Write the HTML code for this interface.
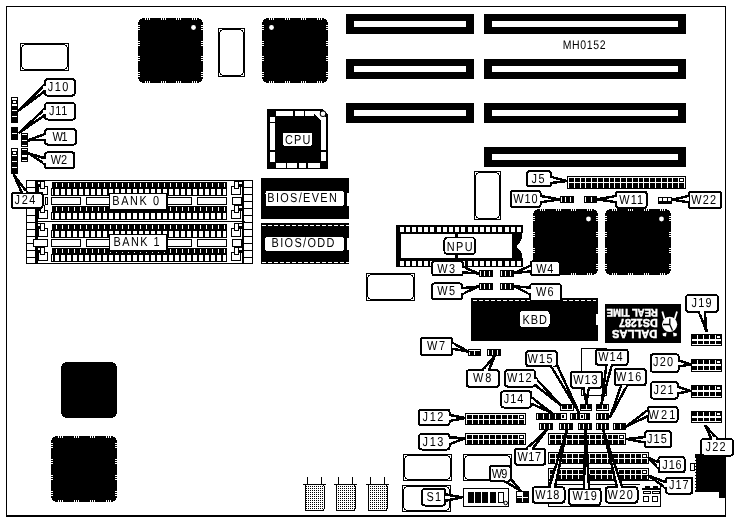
<!DOCTYPE html>
<html><head><meta charset="utf-8"><title>MH0152</title>
<style>
html,body{margin:0;padding:0;background:#fff;}
body{width:740px;height:521px;overflow:hidden;}
svg{display:block;font-family:"Liberation Sans",sans-serif;will-change:transform;}
</style></head><body>
<svg width="740" height="521" viewBox="0 0 740 521" shape-rendering="crispEdges" text-rendering="geometricPrecision">
<defs><pattern id="dots" width="2" height="2" patternUnits="userSpaceOnUse"><rect width="2" height="2" fill="#fff"/><rect width="1" height="1" fill="#000"/></pattern></defs>
<rect width="740" height="521" fill="#fff"/>
<rect x="6" y="6" width="720" height="1" fill="#000" />
<rect x="6" y="6" width="1" height="510" fill="#000" />
<rect x="725" y="6" width="1" height="510" fill="#000" />
<rect x="6" y="515" width="720" height="2" fill="#000" />
<rect x="346" y="14" width="128" height="20" fill="#000" />
<rect x="354" y="21" width="112" height="6" fill="#fff" />
<rect x="346" y="59" width="128" height="20" fill="#000" />
<rect x="354" y="66" width="112" height="6" fill="#fff" />
<rect x="346" y="103" width="128" height="20" fill="#000" />
<rect x="354" y="110" width="112" height="6" fill="#fff" />
<rect x="484" y="14" width="202" height="20" fill="#000" />
<rect x="492" y="21" width="186" height="6" fill="#fff" />
<rect x="484" y="59" width="202" height="20" fill="#000" />
<rect x="492" y="66" width="186" height="6" fill="#fff" />
<rect x="484" y="103" width="202" height="20" fill="#000" />
<rect x="492" y="110" width="186" height="6" fill="#fff" />
<rect x="484" y="147" width="202" height="20" fill="#000" />
<rect x="492" y="154" width="186" height="6" fill="#fff" />
<polygon points="142,18 199,18 199,19 201,19 201,20 202,20 202,22 203,22 203,79 202,79 202,81 201,81 201,82 199,82 199,83 142,83 142,82 140,82 140,81 139,81 139,79 138,79 138,22 139,22 139,20 140,20 140,19 142,19" fill="#000"/>
<rect x="145" y="18" width="1" height="2" fill="#fff" />
<rect x="145" y="81" width="1" height="2" fill="#fff" />
<rect x="138" y="25" width="2" height="1" fill="#fff" />
<rect x="201" y="25" width="2" height="1" fill="#fff" />
<rect x="147" y="18" width="1" height="2" fill="#fff" />
<rect x="147" y="81" width="1" height="2" fill="#fff" />
<rect x="138" y="27" width="2" height="1" fill="#fff" />
<rect x="201" y="27" width="2" height="1" fill="#fff" />
<rect x="149" y="18" width="1" height="2" fill="#fff" />
<rect x="149" y="81" width="1" height="2" fill="#fff" />
<rect x="138" y="29" width="2" height="1" fill="#fff" />
<rect x="201" y="29" width="2" height="1" fill="#fff" />
<rect x="161" y="18" width="1" height="2" fill="#fff" />
<rect x="161" y="81" width="1" height="2" fill="#fff" />
<rect x="138" y="41" width="2" height="1" fill="#fff" />
<rect x="201" y="41" width="2" height="1" fill="#fff" />
<rect x="163" y="18" width="1" height="2" fill="#fff" />
<rect x="163" y="81" width="1" height="2" fill="#fff" />
<rect x="138" y="43" width="2" height="1" fill="#fff" />
<rect x="201" y="43" width="2" height="1" fill="#fff" />
<rect x="165" y="18" width="1" height="2" fill="#fff" />
<rect x="165" y="81" width="1" height="2" fill="#fff" />
<rect x="138" y="45" width="2" height="1" fill="#fff" />
<rect x="201" y="45" width="2" height="1" fill="#fff" />
<rect x="176" y="18" width="1" height="2" fill="#fff" />
<rect x="176" y="81" width="1" height="2" fill="#fff" />
<rect x="138" y="56" width="2" height="1" fill="#fff" />
<rect x="201" y="56" width="2" height="1" fill="#fff" />
<rect x="178" y="18" width="1" height="2" fill="#fff" />
<rect x="178" y="81" width="1" height="2" fill="#fff" />
<rect x="138" y="58" width="2" height="1" fill="#fff" />
<rect x="201" y="58" width="2" height="1" fill="#fff" />
<rect x="180" y="18" width="1" height="2" fill="#fff" />
<rect x="180" y="81" width="1" height="2" fill="#fff" />
<rect x="138" y="60" width="2" height="1" fill="#fff" />
<rect x="201" y="60" width="2" height="1" fill="#fff" />
<rect x="192" y="18" width="1" height="2" fill="#fff" />
<rect x="192" y="81" width="1" height="2" fill="#fff" />
<rect x="138" y="72" width="2" height="1" fill="#fff" />
<rect x="201" y="72" width="2" height="1" fill="#fff" />
<rect x="194" y="18" width="1" height="2" fill="#fff" />
<rect x="194" y="81" width="1" height="2" fill="#fff" />
<rect x="138" y="74" width="2" height="1" fill="#fff" />
<rect x="201" y="74" width="2" height="1" fill="#fff" />
<rect x="196" y="18" width="1" height="2" fill="#fff" />
<rect x="196" y="81" width="1" height="2" fill="#fff" />
<rect x="138" y="76" width="2" height="1" fill="#fff" />
<rect x="201" y="76" width="2" height="1" fill="#fff" />
<circle cx="193.5" cy="27.5" r="2.4" fill="#fff" shape-rendering="geometricPrecision"/>
<polygon points="266,18 324,18 324,19 326,19 326,20 327,20 327,22 328,22 328,79 327,79 327,81 326,81 326,82 324,82 324,83 266,83 266,82 264,82 264,81 263,81 263,79 262,79 262,22 263,22 263,20 264,20 264,19 266,19" fill="#000"/>
<rect x="269" y="18" width="1" height="2" fill="#fff" />
<rect x="269" y="81" width="1" height="2" fill="#fff" />
<rect x="262" y="25" width="2" height="1" fill="#fff" />
<rect x="326" y="25" width="2" height="1" fill="#fff" />
<rect x="271" y="18" width="1" height="2" fill="#fff" />
<rect x="271" y="81" width="1" height="2" fill="#fff" />
<rect x="262" y="27" width="2" height="1" fill="#fff" />
<rect x="326" y="27" width="2" height="1" fill="#fff" />
<rect x="273" y="18" width="1" height="2" fill="#fff" />
<rect x="273" y="81" width="1" height="2" fill="#fff" />
<rect x="262" y="29" width="2" height="1" fill="#fff" />
<rect x="326" y="29" width="2" height="1" fill="#fff" />
<rect x="285" y="18" width="1" height="2" fill="#fff" />
<rect x="285" y="81" width="1" height="2" fill="#fff" />
<rect x="262" y="41" width="2" height="1" fill="#fff" />
<rect x="326" y="41" width="2" height="1" fill="#fff" />
<rect x="287" y="18" width="1" height="2" fill="#fff" />
<rect x="287" y="81" width="1" height="2" fill="#fff" />
<rect x="262" y="43" width="2" height="1" fill="#fff" />
<rect x="326" y="43" width="2" height="1" fill="#fff" />
<rect x="289" y="18" width="1" height="2" fill="#fff" />
<rect x="289" y="81" width="1" height="2" fill="#fff" />
<rect x="262" y="45" width="2" height="1" fill="#fff" />
<rect x="326" y="45" width="2" height="1" fill="#fff" />
<rect x="301" y="18" width="1" height="2" fill="#fff" />
<rect x="301" y="81" width="1" height="2" fill="#fff" />
<rect x="262" y="56" width="2" height="1" fill="#fff" />
<rect x="326" y="56" width="2" height="1" fill="#fff" />
<rect x="303" y="18" width="1" height="2" fill="#fff" />
<rect x="303" y="81" width="1" height="2" fill="#fff" />
<rect x="262" y="58" width="2" height="1" fill="#fff" />
<rect x="326" y="58" width="2" height="1" fill="#fff" />
<rect x="305" y="18" width="1" height="2" fill="#fff" />
<rect x="305" y="81" width="1" height="2" fill="#fff" />
<rect x="262" y="60" width="2" height="1" fill="#fff" />
<rect x="326" y="60" width="2" height="1" fill="#fff" />
<rect x="317" y="18" width="1" height="2" fill="#fff" />
<rect x="317" y="81" width="1" height="2" fill="#fff" />
<rect x="262" y="72" width="2" height="1" fill="#fff" />
<rect x="326" y="72" width="2" height="1" fill="#fff" />
<rect x="319" y="18" width="1" height="2" fill="#fff" />
<rect x="319" y="81" width="1" height="2" fill="#fff" />
<rect x="262" y="74" width="2" height="1" fill="#fff" />
<rect x="326" y="74" width="2" height="1" fill="#fff" />
<rect x="321" y="18" width="1" height="2" fill="#fff" />
<rect x="321" y="81" width="1" height="2" fill="#fff" />
<rect x="262" y="76" width="2" height="1" fill="#fff" />
<rect x="326" y="76" width="2" height="1" fill="#fff" />
<circle cx="271.5" cy="27.5" r="2.4" fill="#fff" shape-rendering="geometricPrecision"/>
<polygon points="537,209 594,209 594,210 596,210 596,211 597,211 597,213 598,213 598,271 597,271 597,273 596,273 596,274 594,274 594,275 537,275 537,274 535,274 535,273 534,273 534,271 533,271 533,213 534,213 534,211 535,211 535,210 537,210" fill="#000"/>
<rect x="540" y="209" width="1" height="2" fill="#fff" />
<rect x="540" y="273" width="1" height="2" fill="#fff" />
<rect x="533" y="216" width="2" height="1" fill="#fff" />
<rect x="596" y="216" width="2" height="1" fill="#fff" />
<rect x="542" y="209" width="1" height="2" fill="#fff" />
<rect x="542" y="273" width="1" height="2" fill="#fff" />
<rect x="533" y="218" width="2" height="1" fill="#fff" />
<rect x="596" y="218" width="2" height="1" fill="#fff" />
<rect x="544" y="209" width="1" height="2" fill="#fff" />
<rect x="544" y="273" width="1" height="2" fill="#fff" />
<rect x="533" y="220" width="2" height="1" fill="#fff" />
<rect x="596" y="220" width="2" height="1" fill="#fff" />
<rect x="556" y="209" width="1" height="2" fill="#fff" />
<rect x="556" y="273" width="1" height="2" fill="#fff" />
<rect x="533" y="232" width="2" height="1" fill="#fff" />
<rect x="596" y="232" width="2" height="1" fill="#fff" />
<rect x="558" y="209" width="1" height="2" fill="#fff" />
<rect x="558" y="273" width="1" height="2" fill="#fff" />
<rect x="533" y="234" width="2" height="1" fill="#fff" />
<rect x="596" y="234" width="2" height="1" fill="#fff" />
<rect x="560" y="209" width="1" height="2" fill="#fff" />
<rect x="560" y="273" width="1" height="2" fill="#fff" />
<rect x="533" y="236" width="2" height="1" fill="#fff" />
<rect x="596" y="236" width="2" height="1" fill="#fff" />
<rect x="571" y="209" width="1" height="2" fill="#fff" />
<rect x="571" y="273" width="1" height="2" fill="#fff" />
<rect x="533" y="248" width="2" height="1" fill="#fff" />
<rect x="596" y="248" width="2" height="1" fill="#fff" />
<rect x="573" y="209" width="1" height="2" fill="#fff" />
<rect x="573" y="273" width="1" height="2" fill="#fff" />
<rect x="533" y="250" width="2" height="1" fill="#fff" />
<rect x="596" y="250" width="2" height="1" fill="#fff" />
<rect x="575" y="209" width="1" height="2" fill="#fff" />
<rect x="575" y="273" width="1" height="2" fill="#fff" />
<rect x="533" y="252" width="2" height="1" fill="#fff" />
<rect x="596" y="252" width="2" height="1" fill="#fff" />
<rect x="587" y="209" width="1" height="2" fill="#fff" />
<rect x="587" y="273" width="1" height="2" fill="#fff" />
<rect x="533" y="264" width="2" height="1" fill="#fff" />
<rect x="596" y="264" width="2" height="1" fill="#fff" />
<rect x="589" y="209" width="1" height="2" fill="#fff" />
<rect x="589" y="273" width="1" height="2" fill="#fff" />
<rect x="533" y="266" width="2" height="1" fill="#fff" />
<rect x="596" y="266" width="2" height="1" fill="#fff" />
<rect x="591" y="209" width="1" height="2" fill="#fff" />
<rect x="591" y="273" width="1" height="2" fill="#fff" />
<rect x="533" y="268" width="2" height="1" fill="#fff" />
<rect x="596" y="268" width="2" height="1" fill="#fff" />
<circle cx="588.5" cy="219" r="2.4" fill="#fff" shape-rendering="geometricPrecision"/>
<polygon points="609,209 667,209 667,210 669,210 669,211 670,211 670,213 671,213 671,271 670,271 670,273 669,273 669,274 667,274 667,275 609,275 609,274 607,274 607,273 606,273 606,271 605,271 605,213 606,213 606,211 607,211 607,210 609,210" fill="#000"/>
<rect x="612" y="209" width="1" height="2" fill="#fff" />
<rect x="612" y="273" width="1" height="2" fill="#fff" />
<rect x="605" y="216" width="2" height="1" fill="#fff" />
<rect x="669" y="216" width="2" height="1" fill="#fff" />
<rect x="614" y="209" width="1" height="2" fill="#fff" />
<rect x="614" y="273" width="1" height="2" fill="#fff" />
<rect x="605" y="218" width="2" height="1" fill="#fff" />
<rect x="669" y="218" width="2" height="1" fill="#fff" />
<rect x="616" y="209" width="1" height="2" fill="#fff" />
<rect x="616" y="273" width="1" height="2" fill="#fff" />
<rect x="605" y="220" width="2" height="1" fill="#fff" />
<rect x="669" y="220" width="2" height="1" fill="#fff" />
<rect x="628" y="209" width="1" height="2" fill="#fff" />
<rect x="628" y="273" width="1" height="2" fill="#fff" />
<rect x="605" y="232" width="2" height="1" fill="#fff" />
<rect x="669" y="232" width="2" height="1" fill="#fff" />
<rect x="630" y="209" width="1" height="2" fill="#fff" />
<rect x="630" y="273" width="1" height="2" fill="#fff" />
<rect x="605" y="234" width="2" height="1" fill="#fff" />
<rect x="669" y="234" width="2" height="1" fill="#fff" />
<rect x="632" y="209" width="1" height="2" fill="#fff" />
<rect x="632" y="273" width="1" height="2" fill="#fff" />
<rect x="605" y="236" width="2" height="1" fill="#fff" />
<rect x="669" y="236" width="2" height="1" fill="#fff" />
<rect x="644" y="209" width="1" height="2" fill="#fff" />
<rect x="644" y="273" width="1" height="2" fill="#fff" />
<rect x="605" y="248" width="2" height="1" fill="#fff" />
<rect x="669" y="248" width="2" height="1" fill="#fff" />
<rect x="646" y="209" width="1" height="2" fill="#fff" />
<rect x="646" y="273" width="1" height="2" fill="#fff" />
<rect x="605" y="250" width="2" height="1" fill="#fff" />
<rect x="669" y="250" width="2" height="1" fill="#fff" />
<rect x="648" y="209" width="1" height="2" fill="#fff" />
<rect x="648" y="273" width="1" height="2" fill="#fff" />
<rect x="605" y="252" width="2" height="1" fill="#fff" />
<rect x="669" y="252" width="2" height="1" fill="#fff" />
<rect x="660" y="209" width="1" height="2" fill="#fff" />
<rect x="660" y="273" width="1" height="2" fill="#fff" />
<rect x="605" y="264" width="2" height="1" fill="#fff" />
<rect x="669" y="264" width="2" height="1" fill="#fff" />
<rect x="662" y="209" width="1" height="2" fill="#fff" />
<rect x="662" y="273" width="1" height="2" fill="#fff" />
<rect x="605" y="266" width="2" height="1" fill="#fff" />
<rect x="669" y="266" width="2" height="1" fill="#fff" />
<rect x="664" y="209" width="1" height="2" fill="#fff" />
<rect x="664" y="273" width="1" height="2" fill="#fff" />
<rect x="605" y="268" width="2" height="1" fill="#fff" />
<rect x="669" y="268" width="2" height="1" fill="#fff" />
<circle cx="661.5" cy="219" r="2.4" fill="#fff" shape-rendering="geometricPrecision"/>
<polygon points="65,362 113,362 113,363 115,363 115,364 116,364 116,366 117,366 117,414 116,414 116,416 115,416 115,417 113,417 113,418 65,418 65,417 63,417 63,416 62,416 62,414 61,414 61,366 62,366 62,364 63,364 63,363 65,363" fill="#000"/>
<polygon points="55,436 113,436 113,437 115,437 115,438 116,438 116,440 117,440 117,498 116,498 116,500 115,500 115,501 113,501 113,502 55,502 55,501 53,501 53,500 52,500 52,498 51,498 51,440 52,440 52,438 53,438 53,437 55,437" fill="#000"/>
<rect x="58" y="436" width="1" height="2" fill="#fff" />
<rect x="58" y="500" width="1" height="2" fill="#fff" />
<rect x="51" y="443" width="2" height="1" fill="#fff" />
<rect x="115" y="443" width="2" height="1" fill="#fff" />
<rect x="60" y="436" width="1" height="2" fill="#fff" />
<rect x="60" y="500" width="1" height="2" fill="#fff" />
<rect x="51" y="445" width="2" height="1" fill="#fff" />
<rect x="115" y="445" width="2" height="1" fill="#fff" />
<rect x="62" y="436" width="1" height="2" fill="#fff" />
<rect x="62" y="500" width="1" height="2" fill="#fff" />
<rect x="51" y="447" width="2" height="1" fill="#fff" />
<rect x="115" y="447" width="2" height="1" fill="#fff" />
<rect x="74" y="436" width="1" height="2" fill="#fff" />
<rect x="74" y="500" width="1" height="2" fill="#fff" />
<rect x="51" y="459" width="2" height="1" fill="#fff" />
<rect x="115" y="459" width="2" height="1" fill="#fff" />
<rect x="76" y="436" width="1" height="2" fill="#fff" />
<rect x="76" y="500" width="1" height="2" fill="#fff" />
<rect x="51" y="461" width="2" height="1" fill="#fff" />
<rect x="115" y="461" width="2" height="1" fill="#fff" />
<rect x="78" y="436" width="1" height="2" fill="#fff" />
<rect x="78" y="500" width="1" height="2" fill="#fff" />
<rect x="51" y="463" width="2" height="1" fill="#fff" />
<rect x="115" y="463" width="2" height="1" fill="#fff" />
<rect x="90" y="436" width="1" height="2" fill="#fff" />
<rect x="90" y="500" width="1" height="2" fill="#fff" />
<rect x="51" y="475" width="2" height="1" fill="#fff" />
<rect x="115" y="475" width="2" height="1" fill="#fff" />
<rect x="92" y="436" width="1" height="2" fill="#fff" />
<rect x="92" y="500" width="1" height="2" fill="#fff" />
<rect x="51" y="477" width="2" height="1" fill="#fff" />
<rect x="115" y="477" width="2" height="1" fill="#fff" />
<rect x="94" y="436" width="1" height="2" fill="#fff" />
<rect x="94" y="500" width="1" height="2" fill="#fff" />
<rect x="51" y="479" width="2" height="1" fill="#fff" />
<rect x="115" y="479" width="2" height="1" fill="#fff" />
<rect x="106" y="436" width="1" height="2" fill="#fff" />
<rect x="106" y="500" width="1" height="2" fill="#fff" />
<rect x="51" y="491" width="2" height="1" fill="#fff" />
<rect x="115" y="491" width="2" height="1" fill="#fff" />
<rect x="108" y="436" width="1" height="2" fill="#fff" />
<rect x="108" y="500" width="1" height="2" fill="#fff" />
<rect x="51" y="493" width="2" height="1" fill="#fff" />
<rect x="115" y="493" width="2" height="1" fill="#fff" />
<rect x="110" y="436" width="1" height="2" fill="#fff" />
<rect x="110" y="500" width="1" height="2" fill="#fff" />
<rect x="51" y="495" width="2" height="1" fill="#fff" />
<rect x="115" y="495" width="2" height="1" fill="#fff" />
<rect x="20.5" y="43.5" width="48" height="27" fill="#fff" stroke="#000" stroke-width="1"/>
<rect x="21.5" y="44.5" width="46" height="25" rx="4.5" fill="none" stroke="#000" stroke-width="1"/>
<rect x="218.5" y="28.5" width="26" height="48" fill="#fff" stroke="#000" stroke-width="1"/>
<rect x="219.5" y="29.5" width="24" height="46" rx="4.5" fill="none" stroke="#000" stroke-width="1"/>
<rect x="474.5" y="171.5" width="26" height="48" fill="#fff" stroke="#000" stroke-width="1"/>
<rect x="475.5" y="172.5" width="24" height="46" rx="4.5" fill="none" stroke="#000" stroke-width="1"/>
<rect x="366.5" y="273.5" width="48" height="27" fill="#fff" stroke="#000" stroke-width="1"/>
<rect x="367.5" y="274.5" width="46" height="25" rx="4.5" fill="none" stroke="#000" stroke-width="1"/>
<rect x="403.5" y="454.5" width="48" height="26" fill="#fff" stroke="#000" stroke-width="1"/>
<rect x="404.5" y="455.5" width="46" height="24" rx="4.5" fill="none" stroke="#000" stroke-width="1"/>
<rect x="463.5" y="454.5" width="48" height="26" fill="#fff" stroke="#000" stroke-width="1"/>
<rect x="464.5" y="455.5" width="46" height="24" rx="4.5" fill="none" stroke="#000" stroke-width="1"/>
<rect x="402.5" y="485.5" width="48" height="26" fill="#fff" stroke="#000" stroke-width="1"/>
<rect x="403.5" y="486.5" width="46" height="24" rx="4.5" fill="none" stroke="#000" stroke-width="1"/>
<rect x="581.5" y="348.5" width="25" height="47" fill="#fff" stroke="#000" stroke-width="1"/>
<polygon points="267,109 322,109 328,115 328,169 267,169" fill="#000"/>
<rect x="276" y="111" width="17" height="4.5" fill="#fff" />
<rect x="294.5" y="111" width="9.5" height="4.5" fill="#fff" />
<rect x="305" y="111" width="9" height="4.5" fill="#fff" />
<rect x="270" y="117" width="4.5" height="4.5" fill="#fff" />
<rect x="270" y="122.5" width="4.5" height="27.5" fill="#fff" />
<rect x="270" y="151.5" width="4.5" height="10.5" fill="#fff" />
<rect x="321" y="122" width="5" height="28" fill="#fff" />
<rect x="321" y="151.5" width="5" height="9.5" fill="#fff" />
<rect x="275.5" y="163" width="10" height="4.5" fill="#fff" />
<rect x="287" y="163" width="10" height="4.5" fill="#fff" />
<rect x="298.5" y="163" width="7.5" height="4.5" fill="#fff" />
<rect x="307.5" y="163" width="12.5" height="4.5" fill="#fff" />
<polygon points="314,111 319,111 326,118 326,122 321,122 321,120.5 314.5,114" fill="#fff"/>
<circle cx="323" cy="113.8" r="3.2" fill="#000" shape-rendering="geometricPrecision"/><circle cx="323" cy="113.8" r="2.3" fill="#fff" shape-rendering="geometricPrecision"/>
<rect x="283" y="132.5" width="29" height="13.5" rx="2.5" fill="#fff"/>
<text transform="translate(285,144) scale(0.84,1)" font-size="13" textLength="30.12" lengthAdjust="spacing" fill="#000" >CPU</text>
<rect x="26.5" y="180.5" width="226" height="83" fill="#fff" stroke="#000" stroke-width="1"/>
<rect x="35" y="221" width="210" height="1" fill="#000" />
<rect x="26" y="187" width="9" height="1" fill="#000" />
<rect x="244" y="187" width="9" height="1" fill="#000" />
<rect x="26" y="194" width="9" height="1" fill="#000" />
<rect x="244" y="194" width="9" height="1" fill="#000" />
<rect x="26" y="201" width="9" height="1" fill="#000" />
<rect x="244" y="201" width="9" height="1" fill="#000" />
<rect x="26" y="208" width="9" height="1" fill="#000" />
<rect x="244" y="208" width="9" height="1" fill="#000" />
<rect x="26" y="215" width="9" height="1" fill="#000" />
<rect x="244" y="215" width="9" height="1" fill="#000" />
<rect x="26" y="222" width="9" height="1" fill="#000" />
<rect x="244" y="222" width="9" height="1" fill="#000" />
<rect x="26" y="229" width="9" height="1" fill="#000" />
<rect x="244" y="229" width="9" height="1" fill="#000" />
<rect x="26" y="236" width="9" height="1" fill="#000" />
<rect x="244" y="236" width="9" height="1" fill="#000" />
<rect x="26" y="243" width="9" height="1" fill="#000" />
<rect x="244" y="243" width="9" height="1" fill="#000" />
<rect x="26" y="250" width="9" height="1" fill="#000" />
<rect x="244" y="250" width="9" height="1" fill="#000" />
<rect x="26" y="257" width="9" height="1" fill="#000" />
<rect x="244" y="257" width="9" height="1" fill="#000" />
<rect x="34.5" y="180" width="3.5" height="84" fill="#000" />
<rect x="241.5" y="180" width="2.5" height="84" fill="#000" />
<rect x="52" y="182" width="175" height="6" fill="#000" />
<rect x="51.5" y="188.5" width="175" height="7" fill="#fff" stroke="#000" stroke-width="1"/>
<rect x="56" y="183" width="1" height="4" fill="#fff" />
<rect x="62" y="183" width="1" height="4" fill="#fff" />
<rect x="68" y="183" width="1" height="4" fill="#fff" />
<rect x="74" y="183" width="1" height="4" fill="#fff" />
<rect x="80" y="183" width="1" height="4" fill="#fff" />
<rect x="86" y="183" width="1" height="4" fill="#fff" />
<rect x="92" y="183" width="1" height="4" fill="#fff" />
<rect x="98" y="183" width="1" height="4" fill="#fff" />
<rect x="104" y="183" width="1" height="4" fill="#fff" />
<rect x="110" y="183" width="1" height="4" fill="#fff" />
<rect x="116" y="183" width="1" height="4" fill="#fff" />
<rect x="122" y="183" width="1" height="4" fill="#fff" />
<rect x="128" y="183" width="1" height="4" fill="#fff" />
<rect x="134" y="183" width="1" height="4" fill="#fff" />
<rect x="140" y="183" width="1" height="4" fill="#fff" />
<rect x="146" y="183" width="1" height="4" fill="#fff" />
<rect x="152" y="183" width="1" height="4" fill="#fff" />
<rect x="158" y="183" width="1" height="4" fill="#fff" />
<rect x="164" y="183" width="1" height="4" fill="#fff" />
<rect x="170" y="183" width="1" height="4" fill="#fff" />
<rect x="176" y="183" width="1" height="4" fill="#fff" />
<rect x="182" y="183" width="1" height="4" fill="#fff" />
<rect x="188" y="183" width="1" height="4" fill="#fff" />
<rect x="194" y="183" width="1" height="4" fill="#fff" />
<rect x="200" y="183" width="1" height="4" fill="#fff" />
<rect x="206" y="183" width="1" height="4" fill="#fff" />
<rect x="212" y="183" width="1" height="4" fill="#fff" />
<rect x="218" y="183" width="1" height="4" fill="#fff" />
<rect x="224" y="183" width="1" height="4" fill="#fff" />
<rect x="53" y="188" width="2" height="7" fill="#000" />
<rect x="59" y="188" width="2" height="7" fill="#000" />
<rect x="65" y="188" width="2" height="7" fill="#000" />
<rect x="71" y="188" width="2" height="7" fill="#000" />
<rect x="77" y="188" width="2" height="7" fill="#000" />
<rect x="83" y="188" width="2" height="7" fill="#000" />
<rect x="89" y="188" width="2" height="7" fill="#000" />
<rect x="95" y="188" width="2" height="7" fill="#000" />
<rect x="101" y="188" width="2" height="7" fill="#000" />
<rect x="107" y="188" width="2" height="7" fill="#000" />
<rect x="113" y="188" width="2" height="7" fill="#000" />
<rect x="119" y="188" width="2" height="7" fill="#000" />
<rect x="125" y="188" width="2" height="7" fill="#000" />
<rect x="131" y="188" width="2" height="7" fill="#000" />
<rect x="137" y="188" width="2" height="7" fill="#000" />
<rect x="143" y="188" width="2" height="7" fill="#000" />
<rect x="149" y="188" width="2" height="7" fill="#000" />
<rect x="155" y="188" width="2" height="7" fill="#000" />
<rect x="161" y="188" width="2" height="7" fill="#000" />
<rect x="167" y="188" width="2" height="7" fill="#000" />
<rect x="173" y="188" width="2" height="7" fill="#000" />
<rect x="179" y="188" width="2" height="7" fill="#000" />
<rect x="185" y="188" width="2" height="7" fill="#000" />
<rect x="191" y="188" width="2" height="7" fill="#000" />
<rect x="197" y="188" width="2" height="7" fill="#000" />
<rect x="203" y="188" width="2" height="7" fill="#000" />
<rect x="209" y="188" width="2" height="7" fill="#000" />
<rect x="215" y="188" width="2" height="7" fill="#000" />
<rect x="221" y="188" width="2" height="7" fill="#000" />
<rect x="38.5" y="186.5" width="9" height="8" fill="#fff" stroke="#000" stroke-width="1"/>
<rect x="40.5" y="181.5" width="4" height="7" fill="#fff" stroke="#000" stroke-width="1"/>
<rect x="38" y="181" width="3" height="1" fill="#000" />
<rect x="38" y="184" width="3" height="3" fill="#000" />
<rect x="231.5" y="186.5" width="9" height="8" fill="#fff" stroke="#000" stroke-width="1"/>
<rect x="234.5" y="181.5" width="4" height="7" fill="#fff" stroke="#000" stroke-width="1"/>
<rect x="238" y="181" width="4" height="1" fill="#000" />
<rect x="238" y="184" width="4" height="3" fill="#000" />
<rect x="52" y="206" width="175" height="6" fill="#000" />
<rect x="51.5" y="212.5" width="175" height="7" fill="#fff" stroke="#000" stroke-width="1"/>
<rect x="56" y="207" width="1" height="4" fill="#fff" />
<rect x="62" y="207" width="1" height="4" fill="#fff" />
<rect x="68" y="207" width="1" height="4" fill="#fff" />
<rect x="74" y="207" width="1" height="4" fill="#fff" />
<rect x="80" y="207" width="1" height="4" fill="#fff" />
<rect x="86" y="207" width="1" height="4" fill="#fff" />
<rect x="92" y="207" width="1" height="4" fill="#fff" />
<rect x="98" y="207" width="1" height="4" fill="#fff" />
<rect x="104" y="207" width="1" height="4" fill="#fff" />
<rect x="110" y="207" width="1" height="4" fill="#fff" />
<rect x="116" y="207" width="1" height="4" fill="#fff" />
<rect x="122" y="207" width="1" height="4" fill="#fff" />
<rect x="128" y="207" width="1" height="4" fill="#fff" />
<rect x="134" y="207" width="1" height="4" fill="#fff" />
<rect x="140" y="207" width="1" height="4" fill="#fff" />
<rect x="146" y="207" width="1" height="4" fill="#fff" />
<rect x="152" y="207" width="1" height="4" fill="#fff" />
<rect x="158" y="207" width="1" height="4" fill="#fff" />
<rect x="164" y="207" width="1" height="4" fill="#fff" />
<rect x="170" y="207" width="1" height="4" fill="#fff" />
<rect x="176" y="207" width="1" height="4" fill="#fff" />
<rect x="182" y="207" width="1" height="4" fill="#fff" />
<rect x="188" y="207" width="1" height="4" fill="#fff" />
<rect x="194" y="207" width="1" height="4" fill="#fff" />
<rect x="200" y="207" width="1" height="4" fill="#fff" />
<rect x="206" y="207" width="1" height="4" fill="#fff" />
<rect x="212" y="207" width="1" height="4" fill="#fff" />
<rect x="218" y="207" width="1" height="4" fill="#fff" />
<rect x="224" y="207" width="1" height="4" fill="#fff" />
<rect x="53" y="212" width="2" height="7" fill="#000" />
<rect x="59" y="212" width="2" height="7" fill="#000" />
<rect x="65" y="212" width="2" height="7" fill="#000" />
<rect x="71" y="212" width="2" height="7" fill="#000" />
<rect x="77" y="212" width="2" height="7" fill="#000" />
<rect x="83" y="212" width="2" height="7" fill="#000" />
<rect x="89" y="212" width="2" height="7" fill="#000" />
<rect x="95" y="212" width="2" height="7" fill="#000" />
<rect x="101" y="212" width="2" height="7" fill="#000" />
<rect x="107" y="212" width="2" height="7" fill="#000" />
<rect x="113" y="212" width="2" height="7" fill="#000" />
<rect x="119" y="212" width="2" height="7" fill="#000" />
<rect x="125" y="212" width="2" height="7" fill="#000" />
<rect x="131" y="212" width="2" height="7" fill="#000" />
<rect x="137" y="212" width="2" height="7" fill="#000" />
<rect x="143" y="212" width="2" height="7" fill="#000" />
<rect x="149" y="212" width="2" height="7" fill="#000" />
<rect x="155" y="212" width="2" height="7" fill="#000" />
<rect x="161" y="212" width="2" height="7" fill="#000" />
<rect x="167" y="212" width="2" height="7" fill="#000" />
<rect x="173" y="212" width="2" height="7" fill="#000" />
<rect x="179" y="212" width="2" height="7" fill="#000" />
<rect x="185" y="212" width="2" height="7" fill="#000" />
<rect x="191" y="212" width="2" height="7" fill="#000" />
<rect x="197" y="212" width="2" height="7" fill="#000" />
<rect x="203" y="212" width="2" height="7" fill="#000" />
<rect x="209" y="212" width="2" height="7" fill="#000" />
<rect x="215" y="212" width="2" height="7" fill="#000" />
<rect x="221" y="212" width="2" height="7" fill="#000" />
<rect x="38.5" y="210.5" width="9" height="8" fill="#fff" stroke="#000" stroke-width="1"/>
<rect x="40.5" y="205.5" width="4" height="7" fill="#fff" stroke="#000" stroke-width="1"/>
<rect x="38" y="205" width="3" height="1" fill="#000" />
<rect x="38" y="208" width="3" height="3" fill="#000" />
<rect x="231.5" y="210.5" width="9" height="8" fill="#fff" stroke="#000" stroke-width="1"/>
<rect x="234.5" y="205.5" width="4" height="7" fill="#fff" stroke="#000" stroke-width="1"/>
<rect x="238" y="205" width="4" height="1" fill="#000" />
<rect x="238" y="208" width="4" height="3" fill="#000" />
<rect x="52" y="224" width="175" height="6" fill="#000" />
<rect x="51.5" y="230.5" width="175" height="7" fill="#fff" stroke="#000" stroke-width="1"/>
<rect x="56" y="225" width="1" height="4" fill="#fff" />
<rect x="62" y="225" width="1" height="4" fill="#fff" />
<rect x="68" y="225" width="1" height="4" fill="#fff" />
<rect x="74" y="225" width="1" height="4" fill="#fff" />
<rect x="80" y="225" width="1" height="4" fill="#fff" />
<rect x="86" y="225" width="1" height="4" fill="#fff" />
<rect x="92" y="225" width="1" height="4" fill="#fff" />
<rect x="98" y="225" width="1" height="4" fill="#fff" />
<rect x="104" y="225" width="1" height="4" fill="#fff" />
<rect x="110" y="225" width="1" height="4" fill="#fff" />
<rect x="116" y="225" width="1" height="4" fill="#fff" />
<rect x="122" y="225" width="1" height="4" fill="#fff" />
<rect x="128" y="225" width="1" height="4" fill="#fff" />
<rect x="134" y="225" width="1" height="4" fill="#fff" />
<rect x="140" y="225" width="1" height="4" fill="#fff" />
<rect x="146" y="225" width="1" height="4" fill="#fff" />
<rect x="152" y="225" width="1" height="4" fill="#fff" />
<rect x="158" y="225" width="1" height="4" fill="#fff" />
<rect x="164" y="225" width="1" height="4" fill="#fff" />
<rect x="170" y="225" width="1" height="4" fill="#fff" />
<rect x="176" y="225" width="1" height="4" fill="#fff" />
<rect x="182" y="225" width="1" height="4" fill="#fff" />
<rect x="188" y="225" width="1" height="4" fill="#fff" />
<rect x="194" y="225" width="1" height="4" fill="#fff" />
<rect x="200" y="225" width="1" height="4" fill="#fff" />
<rect x="206" y="225" width="1" height="4" fill="#fff" />
<rect x="212" y="225" width="1" height="4" fill="#fff" />
<rect x="218" y="225" width="1" height="4" fill="#fff" />
<rect x="224" y="225" width="1" height="4" fill="#fff" />
<rect x="53" y="230" width="2" height="7" fill="#000" />
<rect x="59" y="230" width="2" height="7" fill="#000" />
<rect x="65" y="230" width="2" height="7" fill="#000" />
<rect x="71" y="230" width="2" height="7" fill="#000" />
<rect x="77" y="230" width="2" height="7" fill="#000" />
<rect x="83" y="230" width="2" height="7" fill="#000" />
<rect x="89" y="230" width="2" height="7" fill="#000" />
<rect x="95" y="230" width="2" height="7" fill="#000" />
<rect x="101" y="230" width="2" height="7" fill="#000" />
<rect x="107" y="230" width="2" height="7" fill="#000" />
<rect x="113" y="230" width="2" height="7" fill="#000" />
<rect x="119" y="230" width="2" height="7" fill="#000" />
<rect x="125" y="230" width="2" height="7" fill="#000" />
<rect x="131" y="230" width="2" height="7" fill="#000" />
<rect x="137" y="230" width="2" height="7" fill="#000" />
<rect x="143" y="230" width="2" height="7" fill="#000" />
<rect x="149" y="230" width="2" height="7" fill="#000" />
<rect x="155" y="230" width="2" height="7" fill="#000" />
<rect x="161" y="230" width="2" height="7" fill="#000" />
<rect x="167" y="230" width="2" height="7" fill="#000" />
<rect x="173" y="230" width="2" height="7" fill="#000" />
<rect x="179" y="230" width="2" height="7" fill="#000" />
<rect x="185" y="230" width="2" height="7" fill="#000" />
<rect x="191" y="230" width="2" height="7" fill="#000" />
<rect x="197" y="230" width="2" height="7" fill="#000" />
<rect x="203" y="230" width="2" height="7" fill="#000" />
<rect x="209" y="230" width="2" height="7" fill="#000" />
<rect x="215" y="230" width="2" height="7" fill="#000" />
<rect x="221" y="230" width="2" height="7" fill="#000" />
<rect x="38.5" y="228.5" width="9" height="8" fill="#fff" stroke="#000" stroke-width="1"/>
<rect x="40.5" y="223.5" width="4" height="7" fill="#fff" stroke="#000" stroke-width="1"/>
<rect x="38" y="223" width="3" height="1" fill="#000" />
<rect x="38" y="226" width="3" height="3" fill="#000" />
<rect x="231.5" y="228.5" width="9" height="8" fill="#fff" stroke="#000" stroke-width="1"/>
<rect x="234.5" y="223.5" width="4" height="7" fill="#fff" stroke="#000" stroke-width="1"/>
<rect x="238" y="223" width="4" height="1" fill="#000" />
<rect x="238" y="226" width="4" height="3" fill="#000" />
<rect x="52" y="248" width="175" height="6" fill="#000" />
<rect x="51.5" y="254.5" width="175" height="7" fill="#fff" stroke="#000" stroke-width="1"/>
<rect x="56" y="249" width="1" height="4" fill="#fff" />
<rect x="62" y="249" width="1" height="4" fill="#fff" />
<rect x="68" y="249" width="1" height="4" fill="#fff" />
<rect x="74" y="249" width="1" height="4" fill="#fff" />
<rect x="80" y="249" width="1" height="4" fill="#fff" />
<rect x="86" y="249" width="1" height="4" fill="#fff" />
<rect x="92" y="249" width="1" height="4" fill="#fff" />
<rect x="98" y="249" width="1" height="4" fill="#fff" />
<rect x="104" y="249" width="1" height="4" fill="#fff" />
<rect x="110" y="249" width="1" height="4" fill="#fff" />
<rect x="116" y="249" width="1" height="4" fill="#fff" />
<rect x="122" y="249" width="1" height="4" fill="#fff" />
<rect x="128" y="249" width="1" height="4" fill="#fff" />
<rect x="134" y="249" width="1" height="4" fill="#fff" />
<rect x="140" y="249" width="1" height="4" fill="#fff" />
<rect x="146" y="249" width="1" height="4" fill="#fff" />
<rect x="152" y="249" width="1" height="4" fill="#fff" />
<rect x="158" y="249" width="1" height="4" fill="#fff" />
<rect x="164" y="249" width="1" height="4" fill="#fff" />
<rect x="170" y="249" width="1" height="4" fill="#fff" />
<rect x="176" y="249" width="1" height="4" fill="#fff" />
<rect x="182" y="249" width="1" height="4" fill="#fff" />
<rect x="188" y="249" width="1" height="4" fill="#fff" />
<rect x="194" y="249" width="1" height="4" fill="#fff" />
<rect x="200" y="249" width="1" height="4" fill="#fff" />
<rect x="206" y="249" width="1" height="4" fill="#fff" />
<rect x="212" y="249" width="1" height="4" fill="#fff" />
<rect x="218" y="249" width="1" height="4" fill="#fff" />
<rect x="224" y="249" width="1" height="4" fill="#fff" />
<rect x="53" y="254" width="2" height="7" fill="#000" />
<rect x="59" y="254" width="2" height="7" fill="#000" />
<rect x="65" y="254" width="2" height="7" fill="#000" />
<rect x="71" y="254" width="2" height="7" fill="#000" />
<rect x="77" y="254" width="2" height="7" fill="#000" />
<rect x="83" y="254" width="2" height="7" fill="#000" />
<rect x="89" y="254" width="2" height="7" fill="#000" />
<rect x="95" y="254" width="2" height="7" fill="#000" />
<rect x="101" y="254" width="2" height="7" fill="#000" />
<rect x="107" y="254" width="2" height="7" fill="#000" />
<rect x="113" y="254" width="2" height="7" fill="#000" />
<rect x="119" y="254" width="2" height="7" fill="#000" />
<rect x="125" y="254" width="2" height="7" fill="#000" />
<rect x="131" y="254" width="2" height="7" fill="#000" />
<rect x="137" y="254" width="2" height="7" fill="#000" />
<rect x="143" y="254" width="2" height="7" fill="#000" />
<rect x="149" y="254" width="2" height="7" fill="#000" />
<rect x="155" y="254" width="2" height="7" fill="#000" />
<rect x="161" y="254" width="2" height="7" fill="#000" />
<rect x="167" y="254" width="2" height="7" fill="#000" />
<rect x="173" y="254" width="2" height="7" fill="#000" />
<rect x="179" y="254" width="2" height="7" fill="#000" />
<rect x="185" y="254" width="2" height="7" fill="#000" />
<rect x="191" y="254" width="2" height="7" fill="#000" />
<rect x="197" y="254" width="2" height="7" fill="#000" />
<rect x="203" y="254" width="2" height="7" fill="#000" />
<rect x="209" y="254" width="2" height="7" fill="#000" />
<rect x="215" y="254" width="2" height="7" fill="#000" />
<rect x="221" y="254" width="2" height="7" fill="#000" />
<rect x="38.5" y="252.5" width="9" height="8" fill="#fff" stroke="#000" stroke-width="1"/>
<rect x="40.5" y="247.5" width="4" height="7" fill="#fff" stroke="#000" stroke-width="1"/>
<rect x="38" y="247" width="3" height="1" fill="#000" />
<rect x="38" y="250" width="3" height="3" fill="#000" />
<rect x="231.5" y="252.5" width="9" height="8" fill="#fff" stroke="#000" stroke-width="1"/>
<rect x="234.5" y="247.5" width="4" height="7" fill="#fff" stroke="#000" stroke-width="1"/>
<rect x="238" y="247" width="4" height="1" fill="#000" />
<rect x="238" y="250" width="4" height="3" fill="#000" />
<rect x="51" y="197.5" width="29.5" height="6.5" fill="#fff" stroke="#000" stroke-width="1"/>
<rect x="86.5" y="197.5" width="29.5" height="6.5" fill="#fff" stroke="#000" stroke-width="1"/>
<rect x="161.5" y="197.5" width="29.5" height="6.5" fill="#fff" stroke="#000" stroke-width="1"/>
<rect x="197" y="197.5" width="29.5" height="6.5" fill="#fff" stroke="#000" stroke-width="1"/>
<rect x="45" y="197.5" width="2" height="6.5" fill="#fff" stroke="#000" stroke-width="1"/>
<rect x="232" y="197.5" width="9" height="6.5" fill="#fff" stroke="#000" stroke-width="1"/>
<rect x="51" y="239.5" width="29.5" height="6.5" fill="#fff" stroke="#000" stroke-width="1"/>
<rect x="86.5" y="239.5" width="29.5" height="6.5" fill="#fff" stroke="#000" stroke-width="1"/>
<rect x="161.5" y="239.5" width="29.5" height="6.5" fill="#fff" stroke="#000" stroke-width="1"/>
<rect x="197" y="239.5" width="29.5" height="6.5" fill="#fff" stroke="#000" stroke-width="1"/>
<rect x="45" y="239.5" width="2" height="6.5" fill="#fff" stroke="#000" stroke-width="1"/>
<rect x="232" y="239.5" width="9" height="6.5" fill="#fff" stroke="#000" stroke-width="1"/>
<rect x="33.5" y="239.5" width="13.5" height="6.5" fill="#fff" stroke="#000" stroke-width="1"/>
<rect x="110" y="194" width="58" height="16.5" fill="#000" />
<rect x="109.5" y="193.5" width="57" height="15.5" fill="#fff" stroke="#000" stroke-width="1"/>
<text transform="translate(112.3,205.2) scale(0.84,1)" font-size="13" textLength="55.60" lengthAdjust="spacing" fill="#000" >BANK 0</text>
<rect x="110" y="235" width="58" height="16.5" fill="#000" />
<rect x="109.5" y="234.5" width="57" height="15.5" fill="#fff" stroke="#000" stroke-width="1"/>
<text transform="translate(113.5,246.2) scale(0.84,1)" font-size="13" textLength="55.00" lengthAdjust="spacing" fill="#000" >BANK 1</text>
<rect x="261" y="178" width="88" height="41" fill="#000" />
<rect x="265.5" y="191" width="78.5" height="15" rx="2.5" fill="#fff"/>
<rect x="347" y="193" width="2" height="12.5" fill="#fff" />
<text transform="translate(267.3,201.6) scale(0.84,1)" font-size="13" textLength="82.74" lengthAdjust="spacing" fill="#000" >BIOS/EVEN</text>
<rect x="261" y="223" width="88" height="41" fill="#000" />
<line x1="262" y1="225.8" x2="349" y2="225.8" stroke="#fff" stroke-width="1" stroke-dasharray="3.5 2.5"/>
<line x1="262" y1="262.2" x2="349" y2="262.2" stroke="#fff" stroke-width="1" stroke-dasharray="3.5 2.5"/>
<rect x="265" y="236.8" width="79" height="14" rx="2.5" fill="#fff"/>
<rect x="347" y="238" width="2" height="12" fill="#fff" />
<text transform="translate(271.5,246.5) scale(0.84,1)" font-size="13" textLength="75.00" lengthAdjust="spacing" fill="#000" >BIOS/ODD</text>
<rect x="396" y="225" width="127" height="8" fill="#000" />
<rect x="396" y="233" width="126" height="26" fill="#000" />
<rect x="396" y="258" width="127" height="9" fill="#000" />
<rect x="401" y="234" width="111" height="24" fill="#fff" />
<rect x="400" y="227" width="3.5" height="5" fill="#fff" />
<rect x="400" y="261" width="3.5" height="5" fill="#fff" />
<rect x="406" y="227" width="3.5" height="5" fill="#fff" />
<rect x="406" y="261" width="3.5" height="5" fill="#fff" />
<rect x="412" y="227" width="3.5" height="5" fill="#fff" />
<rect x="412" y="261" width="3.5" height="5" fill="#fff" />
<rect x="418" y="227" width="3.5" height="5" fill="#fff" />
<rect x="418" y="261" width="3.5" height="5" fill="#fff" />
<rect x="424" y="227" width="3.5" height="5" fill="#fff" />
<rect x="424" y="261" width="3.5" height="5" fill="#fff" />
<rect x="430" y="227" width="3.5" height="5" fill="#fff" />
<rect x="430" y="261" width="3.5" height="5" fill="#fff" />
<rect x="437" y="227" width="3.5" height="5" fill="#fff" />
<rect x="437" y="261" width="3.5" height="5" fill="#fff" />
<rect x="443" y="227" width="3.5" height="5" fill="#fff" />
<rect x="443" y="261" width="3.5" height="5" fill="#fff" />
<rect x="449" y="227" width="3.5" height="5" fill="#fff" />
<rect x="449" y="261" width="3.5" height="5" fill="#fff" />
<rect x="455" y="227" width="3.5" height="5" fill="#fff" />
<rect x="455" y="261" width="3.5" height="5" fill="#fff" />
<rect x="461" y="227" width="3.5" height="5" fill="#fff" />
<rect x="461" y="261" width="3.5" height="5" fill="#fff" />
<rect x="468" y="227" width="3.5" height="5" fill="#fff" />
<rect x="468" y="261" width="3.5" height="5" fill="#fff" />
<rect x="474" y="227" width="3.5" height="5" fill="#fff" />
<rect x="474" y="261" width="3.5" height="5" fill="#fff" />
<rect x="480" y="227" width="3.5" height="5" fill="#fff" />
<rect x="480" y="261" width="3.5" height="5" fill="#fff" />
<rect x="486" y="227" width="3.5" height="5" fill="#fff" />
<rect x="486" y="261" width="3.5" height="5" fill="#fff" />
<rect x="492" y="227" width="3.5" height="5" fill="#fff" />
<rect x="492" y="261" width="3.5" height="5" fill="#fff" />
<rect x="498" y="227" width="3.5" height="5" fill="#fff" />
<rect x="498" y="261" width="3.5" height="5" fill="#fff" />
<rect x="505" y="227" width="3.5" height="5" fill="#fff" />
<rect x="505" y="261" width="3.5" height="5" fill="#fff" />
<rect x="511" y="227" width="3.5" height="5" fill="#fff" />
<rect x="511" y="261" width="3.5" height="5" fill="#fff" />
<rect x="517" y="227" width="3.5" height="5" fill="#fff" />
<rect x="517" y="261" width="3.5" height="5" fill="#fff" />
<polygon points="523,239 521,239 521,241 520,241 520,243 519,243 519,244 518,244 518,245 517,245 517,248 518,248 518,249 519,249 519,250 520,250 520,251 521,251 521,253 523,253" fill="#fff"/>
<rect x="454.5" y="232" width="3.5" height="28" fill="#000" />
<rect x="444.3" y="237.5" width="31" height="16.8" rx="3.5" fill="#fff" stroke="#000" stroke-width="1.8"/>
<text transform="translate(446.8,250.5) scale(0.84,1)" font-size="13" textLength="30.71" lengthAdjust="spacing" fill="#000" >NPU</text>
<rect x="471" y="298" width="127" height="43" fill="#000" />
<line x1="473" y1="300.8" x2="596" y2="300.8" stroke="#fff" stroke-width="1" stroke-dasharray="3.5 2.5"/>
<rect x="520" y="311.3" width="29.5" height="15.5" rx="2.5" fill="#fff"/>
<rect x="596" y="313.8" width="2" height="11.2" fill="#fff" />
<text transform="translate(522.5,324) scale(0.84,1)" font-size="13" textLength="29.17" lengthAdjust="spacing" fill="#000" >KBD</text>
<rect x="605" y="304" width="76" height="39" fill="#000" />
<g transform="rotate(180 643 323.25)" fill="#fff" font-weight="bold" stroke="#fff" stroke-width="0.5">
<text x="628.8" y="316.4" font-size="11.5" textLength="45" lengthAdjust="spacingAndGlyphs">DALLAS</text>
<text x="628.2" y="327.7" font-size="11.5" textLength="38.9" lengthAdjust="spacingAndGlyphs">DS1287</text>
<text x="628.2" y="337.4" font-size="10.8" textLength="51.1" lengthAdjust="spacingAndGlyphs">REAL TIME</text>
</g>
<g shape-rendering="geometricPrecision">
<circle cx="669.6" cy="324.3" r="7.6" fill="#fff"/>
<path d="M664.5,319 L662.3,311.5 M674.7,319 L677,311.5" stroke="#fff" stroke-width="1.8" fill="none"/>
<path d="M669.8,318.5 L669.8,324.5 L663,324.5 M669.8,324.5 L672.5,330.5" stroke="#000" stroke-width="1.3" fill="none"/>
<polygon points="662.5,333.5 666.5,332.5 666,336.5 663,336" fill="#fff"/>
<polygon points="677,333.5 673,332.5 673.5,336.5 676.5,336" fill="#fff"/>
</g>
<rect x="11" y="97" width="7" height="26" fill="#000" />
<rect x="12" y="98" width="5" height="2" fill="#fff" />
<rect x="13" y="101" width="3" height="2" fill="#fff" />
<rect x="12" y="104" width="5" height="2" fill="#fff" />
<rect x="12" y="110" width="5" height="1" fill="#fff" />
<rect x="12" y="116" width="5" height="1" fill="#fff" />
<rect x="11" y="127" width="7" height="13" fill="#000" />
<rect x="12" y="133" width="5" height="1" fill="#fff" />
<rect x="21" y="133" width="7" height="13.5" fill="#000" />
<rect x="22" y="134" width="5" height="1" fill="#fff" />
<rect x="22" y="140" width="5" height="1" fill="#fff" />
<rect x="22" y="145" width="5" height="1" fill="#fff" />
<rect x="21" y="148" width="7" height="14" fill="#000" />
<rect x="22" y="149" width="5" height="1" fill="#fff" />
<rect x="22" y="155" width="5" height="2" fill="#fff" />
<rect x="22" y="160" width="5" height="1" fill="#fff" />
<rect x="11" y="148" width="7" height="26" fill="#000" />
<rect x="12" y="149" width="5" height="2" fill="#fff" />
<rect x="13" y="152" width="3" height="2" fill="#fff" />
<rect x="12" y="155" width="5" height="1" fill="#fff" />
<rect x="12" y="161" width="5" height="1" fill="#fff" />
<rect x="12" y="167" width="5" height="1" fill="#fff" />
<rect x="307" y="476.5" width="1" height="7.5" fill="#000" />
<rect x="321" y="476.5" width="1" height="7.5" fill="#000" />
<rect x="305.0" y="484.5" width="19.0" height="26" rx="1.5" fill="url(#dots)" stroke="#000" stroke-width="1"/>
<rect x="303" y="484" width="23" height="1" fill="#000" />
<rect x="337.8" y="476.5" width="1" height="7.5" fill="#000" />
<rect x="351.8" y="476.5" width="1" height="7.5" fill="#000" />
<rect x="336.0" y="484.5" width="19.0" height="26" rx="1.5" fill="url(#dots)" stroke="#000" stroke-width="1"/>
<rect x="334" y="484" width="23" height="1" fill="#000" />
<rect x="370" y="476.5" width="1" height="7.5" fill="#000" />
<rect x="384" y="476.5" width="1" height="7.5" fill="#000" />
<rect x="368.0" y="484.5" width="19.0" height="26" rx="1.5" fill="url(#dots)" stroke="#000" stroke-width="1"/>
<rect x="366" y="484" width="23" height="1" fill="#000" />
<polygon points="695,454 725.5,454 725.5,498 719,498 719,491.5 695,491.5" fill="#000"/>
<rect x="690" y="463.5" width="4" height="7" fill="#fff" stroke="#000" stroke-width="1"/>
<line x1="695.7" y1="458" x2="695.7" y2="490" stroke="#fff" stroke-width="1" stroke-dasharray="1.5 1.5"/>
<rect x="548.5" y="480.5" width="112" height="26" fill="#fff" stroke="#000" stroke-width="1"/>
<rect x="548" y="483.5" width="92" height="1" fill="#000" />
<rect x="642" y="488" width="18" height="1.5" fill="#000" />
<rect x="645" y="485.5" width="5" height="2.5" fill="#000" />
<rect x="653" y="485.5" width="5" height="2.5" fill="#000" />
<rect x="643.5" y="491.5" width="6.5" height="2" fill="#fff" stroke="#000" stroke-width="1"/>
<rect x="652.5" y="491.5" width="6.5" height="2" fill="#fff" stroke="#000" stroke-width="1"/>
<rect x="643.5" y="496.5" width="5" height="5" fill="#fff" stroke="#000" stroke-width="1"/>
<rect x="652.5" y="496.5" width="5" height="5" fill="#fff" stroke="#000" stroke-width="1"/>
<rect x="463.5" y="488.5" width="45" height="18" fill="#fff" stroke="#000" stroke-width="1"/>
<rect x="468" y="492" width="6" height="11" fill="#000" />
<rect x="475" y="492" width="6" height="11" fill="#000" />
<rect x="482" y="492" width="6" height="11" fill="#000" />
<rect x="490" y="492" width="6" height="11" fill="#000" />
<rect x="498" y="492.5" width="5" height="10" fill="#fff" stroke="#000" stroke-width="1"/>
<circle cx="505.7" cy="503" r="1.8" fill="#fff" stroke="#000" stroke-width="1" shape-rendering="geometricPrecision"/>
<rect x="516" y="490.5" width="12.5" height="12" fill="#000" />
<rect x="517" y="491.5" width="4.5" height="4.5" fill="#fff" />
<rect x="522" y="491.5" width="1" height="10" fill="#fff" />
<rect x="517" y="496.5" width="10.5" height="1" fill="#fff" />
<rect x="567.5" y="176.5" width="118" height="12" fill="#fff" stroke="#000" stroke-width="1"/>
<rect x="569" y="178" width="5" height="4" fill="#000" />
<rect x="569" y="183" width="5" height="6" fill="#000" />
<rect x="575" y="178" width="5" height="4" fill="#000" />
<rect x="575" y="183" width="5" height="6" fill="#000" />
<rect x="581" y="178" width="4" height="4" fill="#000" />
<rect x="581" y="183" width="4" height="6" fill="#000" />
<rect x="586" y="178" width="5" height="4" fill="#000" />
<rect x="586" y="183" width="5" height="6" fill="#000" />
<rect x="592" y="178" width="5" height="4" fill="#000" />
<rect x="592" y="183" width="5" height="6" fill="#000" />
<rect x="598" y="178" width="5" height="4" fill="#000" />
<rect x="598" y="183" width="5" height="6" fill="#000" />
<rect x="604" y="178" width="5" height="4" fill="#000" />
<rect x="604" y="183" width="5" height="6" fill="#000" />
<rect x="610" y="178" width="4" height="4" fill="#000" />
<rect x="610" y="183" width="4" height="6" fill="#000" />
<rect x="615" y="178" width="5" height="4" fill="#000" />
<rect x="615" y="183" width="5" height="6" fill="#000" />
<rect x="621" y="178" width="5" height="4" fill="#000" />
<rect x="621" y="183" width="5" height="6" fill="#000" />
<rect x="627" y="178" width="5" height="4" fill="#000" />
<rect x="627" y="183" width="5" height="6" fill="#000" />
<rect x="633" y="178" width="5" height="4" fill="#000" />
<rect x="633" y="183" width="5" height="6" fill="#000" />
<rect x="639" y="178" width="4" height="4" fill="#000" />
<rect x="639" y="183" width="4" height="6" fill="#000" />
<rect x="644" y="178" width="5" height="4" fill="#000" />
<rect x="644" y="183" width="5" height="6" fill="#000" />
<rect x="650" y="178" width="5" height="4" fill="#000" />
<rect x="650" y="183" width="5" height="6" fill="#000" />
<rect x="656" y="178" width="5" height="4" fill="#000" />
<rect x="656" y="183" width="5" height="6" fill="#000" />
<rect x="662" y="178" width="5" height="4" fill="#000" />
<rect x="662" y="183" width="5" height="6" fill="#000" />
<rect x="668" y="178" width="4" height="4" fill="#000" />
<rect x="668" y="183" width="4" height="6" fill="#000" />
<rect x="673" y="178" width="5" height="4" fill="#000" />
<rect x="673" y="183" width="5" height="6" fill="#000" />
<rect x="679" y="178" width="5" height="4" fill="#000" />
<rect x="680" y="179" width="3" height="2" fill="#fff" />
<rect x="679" y="183" width="5" height="6" fill="#000" />
<rect x="465.5" y="413.5" width="60" height="11" fill="#fff" stroke="#000" stroke-width="1"/>
<rect x="467" y="415" width="5" height="4" fill="#000" />
<rect x="467" y="420" width="5" height="5" fill="#000" />
<rect x="473" y="415" width="5" height="4" fill="#000" />
<rect x="473" y="420" width="5" height="5" fill="#000" />
<rect x="479" y="415" width="4" height="4" fill="#000" />
<rect x="479" y="420" width="4" height="5" fill="#000" />
<rect x="484" y="415" width="5" height="4" fill="#000" />
<rect x="484" y="420" width="5" height="5" fill="#000" />
<rect x="490" y="415" width="5" height="4" fill="#000" />
<rect x="490" y="420" width="5" height="5" fill="#000" />
<rect x="496" y="415" width="5" height="4" fill="#000" />
<rect x="496" y="420" width="5" height="5" fill="#000" />
<rect x="502" y="415" width="5" height="4" fill="#000" />
<rect x="502" y="420" width="5" height="5" fill="#000" />
<rect x="508" y="415" width="4" height="4" fill="#000" />
<rect x="508" y="420" width="4" height="5" fill="#000" />
<rect x="513" y="415" width="5" height="4" fill="#000" />
<rect x="513" y="420" width="5" height="5" fill="#000" />
<rect x="519" y="415" width="5" height="4" fill="#000" />
<rect x="520" y="416" width="3" height="2" fill="#fff" />
<rect x="519" y="420" width="5" height="5" fill="#000" />
<rect x="465.5" y="433.5" width="60" height="11" fill="#fff" stroke="#000" stroke-width="1"/>
<rect x="467" y="435" width="5" height="4" fill="#000" />
<rect x="467" y="440" width="5" height="5" fill="#000" />
<rect x="473" y="435" width="5" height="4" fill="#000" />
<rect x="473" y="440" width="5" height="5" fill="#000" />
<rect x="479" y="435" width="4" height="4" fill="#000" />
<rect x="479" y="440" width="4" height="5" fill="#000" />
<rect x="484" y="435" width="5" height="4" fill="#000" />
<rect x="484" y="440" width="5" height="5" fill="#000" />
<rect x="490" y="435" width="5" height="4" fill="#000" />
<rect x="490" y="440" width="5" height="5" fill="#000" />
<rect x="496" y="435" width="5" height="4" fill="#000" />
<rect x="496" y="440" width="5" height="5" fill="#000" />
<rect x="502" y="435" width="5" height="4" fill="#000" />
<rect x="502" y="440" width="5" height="5" fill="#000" />
<rect x="508" y="435" width="4" height="4" fill="#000" />
<rect x="508" y="440" width="4" height="5" fill="#000" />
<rect x="513" y="435" width="5" height="4" fill="#000" />
<rect x="513" y="440" width="5" height="5" fill="#000" />
<rect x="519" y="435" width="5" height="4" fill="#000" />
<rect x="520" y="436" width="3" height="2" fill="#fff" />
<rect x="519" y="440" width="5" height="5" fill="#000" />
<rect x="548.5" y="433.5" width="77" height="11" fill="#fff" stroke="#000" stroke-width="1"/>
<rect x="550" y="435" width="5" height="4" fill="#000" />
<rect x="550" y="440" width="5" height="5" fill="#000" />
<rect x="556" y="435" width="5" height="4" fill="#000" />
<rect x="556" y="440" width="5" height="5" fill="#000" />
<rect x="562" y="435" width="4" height="4" fill="#000" />
<rect x="562" y="440" width="4" height="5" fill="#000" />
<rect x="567" y="435" width="5" height="4" fill="#000" />
<rect x="567" y="440" width="5" height="5" fill="#000" />
<rect x="573" y="435" width="5" height="4" fill="#000" />
<rect x="573" y="440" width="5" height="5" fill="#000" />
<rect x="579" y="435" width="5" height="4" fill="#000" />
<rect x="579" y="440" width="5" height="5" fill="#000" />
<rect x="585" y="435" width="4" height="4" fill="#000" />
<rect x="585" y="440" width="4" height="5" fill="#000" />
<rect x="590" y="435" width="5" height="4" fill="#000" />
<rect x="590" y="440" width="5" height="5" fill="#000" />
<rect x="596" y="435" width="5" height="4" fill="#000" />
<rect x="596" y="440" width="5" height="5" fill="#000" />
<rect x="602" y="435" width="5" height="4" fill="#000" />
<rect x="602" y="440" width="5" height="5" fill="#000" />
<rect x="608" y="435" width="4" height="4" fill="#000" />
<rect x="608" y="440" width="4" height="5" fill="#000" />
<rect x="613" y="435" width="5" height="4" fill="#000" />
<rect x="613" y="440" width="5" height="5" fill="#000" />
<rect x="619" y="435" width="5" height="4" fill="#000" />
<rect x="620" y="436" width="3" height="2" fill="#fff" />
<rect x="619" y="440" width="5" height="5" fill="#000" />
<rect x="548.5" y="452.5" width="100" height="11" fill="#fff" stroke="#000" stroke-width="1"/>
<rect x="550" y="454" width="5" height="4" fill="#000" />
<rect x="550" y="459" width="5" height="5" fill="#000" />
<rect x="556" y="454" width="5" height="4" fill="#000" />
<rect x="556" y="459" width="5" height="5" fill="#000" />
<rect x="562" y="454" width="4" height="4" fill="#000" />
<rect x="562" y="459" width="4" height="5" fill="#000" />
<rect x="567" y="454" width="5" height="4" fill="#000" />
<rect x="567" y="459" width="5" height="5" fill="#000" />
<rect x="573" y="454" width="5" height="4" fill="#000" />
<rect x="573" y="459" width="5" height="5" fill="#000" />
<rect x="579" y="454" width="5" height="4" fill="#000" />
<rect x="579" y="459" width="5" height="5" fill="#000" />
<rect x="585" y="454" width="4" height="4" fill="#000" />
<rect x="585" y="459" width="4" height="5" fill="#000" />
<rect x="590" y="454" width="5" height="4" fill="#000" />
<rect x="590" y="459" width="5" height="5" fill="#000" />
<rect x="596" y="454" width="5" height="4" fill="#000" />
<rect x="596" y="459" width="5" height="5" fill="#000" />
<rect x="602" y="454" width="5" height="4" fill="#000" />
<rect x="602" y="459" width="5" height="5" fill="#000" />
<rect x="608" y="454" width="4" height="4" fill="#000" />
<rect x="608" y="459" width="4" height="5" fill="#000" />
<rect x="613" y="454" width="5" height="4" fill="#000" />
<rect x="613" y="459" width="5" height="5" fill="#000" />
<rect x="619" y="454" width="5" height="4" fill="#000" />
<rect x="619" y="459" width="5" height="5" fill="#000" />
<rect x="625" y="454" width="5" height="4" fill="#000" />
<rect x="625" y="459" width="5" height="5" fill="#000" />
<rect x="631" y="454" width="4" height="4" fill="#000" />
<rect x="631" y="459" width="4" height="5" fill="#000" />
<rect x="636" y="454" width="5" height="4" fill="#000" />
<rect x="636" y="459" width="5" height="5" fill="#000" />
<rect x="642" y="454" width="5" height="4" fill="#000" />
<rect x="643" y="455" width="3" height="2" fill="#fff" />
<rect x="642" y="459" width="5" height="5" fill="#000" />
<rect x="548.5" y="468.5" width="100" height="11" fill="#fff" stroke="#000" stroke-width="1"/>
<rect x="550" y="470" width="5" height="4" fill="#000" />
<rect x="550" y="475" width="5" height="5" fill="#000" />
<rect x="556" y="470" width="5" height="4" fill="#000" />
<rect x="556" y="475" width="5" height="5" fill="#000" />
<rect x="562" y="470" width="4" height="4" fill="#000" />
<rect x="562" y="475" width="4" height="5" fill="#000" />
<rect x="567" y="470" width="5" height="4" fill="#000" />
<rect x="567" y="475" width="5" height="5" fill="#000" />
<rect x="573" y="470" width="5" height="4" fill="#000" />
<rect x="573" y="475" width="5" height="5" fill="#000" />
<rect x="579" y="470" width="5" height="4" fill="#000" />
<rect x="579" y="475" width="5" height="5" fill="#000" />
<rect x="585" y="470" width="4" height="4" fill="#000" />
<rect x="585" y="475" width="4" height="5" fill="#000" />
<rect x="590" y="470" width="5" height="4" fill="#000" />
<rect x="590" y="475" width="5" height="5" fill="#000" />
<rect x="596" y="470" width="5" height="4" fill="#000" />
<rect x="596" y="475" width="5" height="5" fill="#000" />
<rect x="602" y="470" width="5" height="4" fill="#000" />
<rect x="602" y="475" width="5" height="5" fill="#000" />
<rect x="608" y="470" width="4" height="4" fill="#000" />
<rect x="608" y="475" width="4" height="5" fill="#000" />
<rect x="613" y="470" width="5" height="4" fill="#000" />
<rect x="613" y="475" width="5" height="5" fill="#000" />
<rect x="619" y="470" width="5" height="4" fill="#000" />
<rect x="619" y="475" width="5" height="5" fill="#000" />
<rect x="625" y="470" width="5" height="4" fill="#000" />
<rect x="625" y="475" width="5" height="5" fill="#000" />
<rect x="631" y="470" width="4" height="4" fill="#000" />
<rect x="631" y="475" width="4" height="5" fill="#000" />
<rect x="636" y="470" width="5" height="4" fill="#000" />
<rect x="636" y="475" width="5" height="5" fill="#000" />
<rect x="642" y="470" width="5" height="4" fill="#000" />
<rect x="643" y="471" width="3" height="2" fill="#fff" />
<rect x="642" y="475" width="5" height="5" fill="#000" />
<rect x="691.5" y="334.5" width="30" height="11" fill="#fff" stroke="#000" stroke-width="1"/>
<rect x="692" y="334" width="5" height="5" fill="#000" />
<rect x="692" y="341" width="5" height="3" fill="#000" />
<rect x="698" y="334" width="5" height="5" fill="#000" />
<rect x="698" y="341" width="5" height="3" fill="#000" />
<rect x="704" y="334" width="5" height="5" fill="#000" />
<rect x="704" y="341" width="5" height="3" fill="#000" />
<rect x="710" y="334" width="5" height="5" fill="#000" />
<rect x="710" y="341" width="5" height="3" fill="#000" />
<rect x="716" y="334" width="5" height="5" fill="#000" />
<rect x="717" y="336" width="3" height="2" fill="#fff" />
<rect x="716" y="341" width="5" height="3" fill="#000" />
<rect x="691.5" y="359.5" width="30" height="12" fill="#fff" stroke="#000" stroke-width="1"/>
<rect x="692" y="359" width="5" height="5" fill="#000" />
<rect x="692" y="366" width="5" height="4" fill="#000" />
<rect x="698" y="359" width="5" height="5" fill="#000" />
<rect x="698" y="366" width="5" height="4" fill="#000" />
<rect x="704" y="359" width="5" height="5" fill="#000" />
<rect x="704" y="366" width="5" height="4" fill="#000" />
<rect x="710" y="359" width="5" height="5" fill="#000" />
<rect x="710" y="366" width="5" height="4" fill="#000" />
<rect x="716" y="359" width="5" height="5" fill="#000" />
<rect x="717" y="361" width="3" height="2" fill="#fff" />
<rect x="716" y="366" width="5" height="4" fill="#000" />
<rect x="691.5" y="385.5" width="30" height="12" fill="#fff" stroke="#000" stroke-width="1"/>
<rect x="692" y="385" width="5" height="5" fill="#000" />
<rect x="692" y="392" width="5" height="4" fill="#000" />
<rect x="698" y="385" width="5" height="5" fill="#000" />
<rect x="698" y="392" width="5" height="4" fill="#000" />
<rect x="704" y="385" width="5" height="5" fill="#000" />
<rect x="704" y="392" width="5" height="4" fill="#000" />
<rect x="710" y="385" width="5" height="5" fill="#000" />
<rect x="710" y="392" width="5" height="4" fill="#000" />
<rect x="716" y="385" width="5" height="5" fill="#000" />
<rect x="717" y="387" width="3" height="2" fill="#fff" />
<rect x="716" y="392" width="5" height="4" fill="#000" />
<rect x="691.5" y="411.5" width="30" height="11" fill="#fff" stroke="#000" stroke-width="1"/>
<rect x="692" y="411" width="5" height="5" fill="#000" />
<rect x="692" y="418" width="5" height="3" fill="#000" />
<rect x="698" y="411" width="5" height="5" fill="#000" />
<rect x="698" y="418" width="5" height="3" fill="#000" />
<rect x="704" y="411" width="5" height="5" fill="#000" />
<rect x="704" y="418" width="5" height="3" fill="#000" />
<rect x="710" y="411" width="5" height="5" fill="#000" />
<rect x="710" y="418" width="5" height="3" fill="#000" />
<rect x="716" y="411" width="5" height="5" fill="#000" />
<rect x="717" y="413" width="3" height="2" fill="#fff" />
<rect x="716" y="418" width="5" height="3" fill="#000" />
<rect x="479" y="270" width="14" height="7" fill="#000" />
<rect x="480" y="271" width="1" height="5" fill="#fff" />
<rect x="484.333" y="271" width="1" height="5" fill="#fff" />
<rect x="488.667" y="271" width="1" height="5" fill="#fff" />
<rect x="500" y="270" width="14" height="7" fill="#000" />
<rect x="501" y="271" width="1" height="5" fill="#fff" />
<rect x="505.333" y="271" width="1" height="5" fill="#fff" />
<rect x="509.667" y="271" width="1" height="5" fill="#fff" />
<rect x="479" y="283.2" width="14" height="7" fill="#000" />
<rect x="480" y="284.2" width="1" height="5" fill="#fff" />
<rect x="484.333" y="284.2" width="1" height="5" fill="#fff" />
<rect x="488.667" y="284.2" width="1" height="5" fill="#fff" />
<rect x="500" y="283.2" width="14" height="7" fill="#000" />
<rect x="501" y="284.2" width="1" height="5" fill="#fff" />
<rect x="505.333" y="284.2" width="1" height="5" fill="#fff" />
<rect x="509.667" y="284.2" width="1" height="5" fill="#fff" />
<rect x="560" y="196" width="14" height="7" fill="#000" />
<rect x="561" y="197" width="1" height="5" fill="#fff" />
<rect x="565.333" y="197" width="1" height="5" fill="#fff" />
<rect x="569.667" y="197" width="1" height="5" fill="#fff" />
<rect x="584" y="196" width="13" height="7" fill="#000" />
<rect x="585" y="197" width="1" height="5" fill="#fff" />
<rect x="591" y="197" width="1" height="5" fill="#fff" />
<rect x="658" y="197" width="14" height="6.5" fill="#000" />
<rect x="659" y="198" width="3.33333" height="2.5" fill="#fff" />
<rect x="663.333" y="198" width="3.33333" height="2.5" fill="#fff" />
<rect x="667.667" y="198" width="3.33333" height="2.5" fill="#fff" />
<rect x="468" y="349" width="13" height="7" fill="#000" />
<rect x="469" y="350" width="11" height="1" fill="#fff" />
<rect x="469" y="350" width="1" height="5" fill="#fff" />
<rect x="474" y="350" width="1" height="5" fill="#fff" />
<rect x="487" y="349" width="14" height="7" fill="#000" />
<rect x="488" y="350" width="1" height="5" fill="#fff" />
<rect x="492.333" y="350" width="1" height="5" fill="#fff" />
<rect x="496.667" y="350" width="1" height="5" fill="#fff" />
<rect x="560.5" y="404.5" width="13" height="6" fill="#fff" stroke="#000" stroke-width="1"/>
<rect x="562" y="404" width="4.5" height="5" fill="#000" />
<rect x="567.5" y="404" width="4.5" height="5" fill="#000" />
<rect x="580.5" y="404.5" width="11" height="6" fill="#fff" stroke="#000" stroke-width="1"/>
<rect x="581" y="404" width="4.5" height="5" fill="#000" />
<rect x="586.5" y="404" width="5.5" height="5" fill="#000" />
<rect x="596.5" y="404.5" width="12" height="6" fill="#fff" stroke="#000" stroke-width="1"/>
<rect x="597" y="404" width="4.5" height="5" fill="#000" />
<rect x="602.5" y="404" width="4.5" height="5" fill="#000" />
<rect x="536" y="413" width="30.5" height="6.8" fill="#000" />
<rect x="537" y="414" width="1" height="4.8" fill="#fff" />
<rect x="542.9" y="414" width="1" height="4.8" fill="#fff" />
<rect x="548.8" y="414" width="1" height="4.8" fill="#fff" />
<rect x="554.7" y="414" width="1" height="4.8" fill="#fff" />
<rect x="560.6" y="414" width="4.9" height="4.8" fill="#fff" />
<rect x="561.8" y="415.2" width="2.5" height="2.4" fill="#000" />
<rect x="570" y="413" width="19.5" height="6.8" fill="#000" />
<rect x="571" y="414" width="1" height="4.8" fill="#fff" />
<rect x="575.625" y="414" width="1" height="4.8" fill="#fff" />
<rect x="580.25" y="414" width="3.625" height="4.8" fill="#fff" />
<rect x="581.45" y="415.2" width="1.225" height="2.4" fill="#000" />
<rect x="584.875" y="414" width="1" height="4.8" fill="#fff" />
<rect x="596.4" y="413" width="13" height="6.8" fill="#000" />
<rect x="597.4" y="414" width="1" height="4.8" fill="#fff" />
<rect x="601.4" y="414" width="1" height="4.8" fill="#fff" />
<rect x="605.4" y="414" width="1" height="4.8" fill="#fff" />
<rect x="539.2" y="423.2" width="13.6" height="6.8" fill="#000" />
<rect x="540.2" y="424.2" width="1" height="4.8" fill="#fff" />
<rect x="544.4" y="424.2" width="1" height="4.8" fill="#fff" />
<rect x="548.6" y="424.2" width="1" height="4.8" fill="#fff" />
<rect x="559" y="423.2" width="13.6" height="6.8" fill="#000" />
<rect x="560" y="424.2" width="1" height="4.8" fill="#fff" />
<rect x="564.2" y="424.2" width="1" height="4.8" fill="#fff" />
<rect x="568.4" y="424.2" width="1" height="4.8" fill="#fff" />
<rect x="578.2" y="423.2" width="13.6" height="6.8" fill="#000" />
<rect x="579.2" y="424.2" width="1" height="4.8" fill="#fff" />
<rect x="583.4" y="424.2" width="1" height="4.8" fill="#fff" />
<rect x="587.6" y="424.2" width="1" height="4.8" fill="#fff" />
<rect x="596.4" y="423.2" width="13" height="6.8" fill="#000" />
<rect x="597.4" y="424.2" width="1" height="4.8" fill="#fff" />
<rect x="601.4" y="424.2" width="1" height="4.8" fill="#fff" />
<rect x="605.4" y="424.2" width="1" height="4.8" fill="#fff" />
<rect x="613" y="423.2" width="12.7" height="6.8" fill="#000" />
<rect x="614" y="424.2" width="1" height="4.8" fill="#fff" />
<rect x="619.85" y="424.2" width="1" height="4.8" fill="#fff" />
<polygon points="44.5,85.1 18,111 44.5,91.4" fill="#fff" stroke="#000" stroke-width="2.5" stroke-linejoin="round"/>
<polygon points="44.5,109.1 19.5,132.5 44.5,115.4" fill="#fff" stroke="#000" stroke-width="2.5" stroke-linejoin="round"/>
<polygon points="44.8,134.1 28,140.3 44.8,139.9" fill="#fff" stroke="#000" stroke-width="2.5" stroke-linejoin="round"/>
<polygon points="44.5,158.1 29,153.5 44.5,163.9" fill="#fff" stroke="#000" stroke-width="2.5" stroke-linejoin="round"/>
<polygon points="21.6,192.1 14,175.2 26.9,192.1" fill="#fff" stroke="#000" stroke-width="2.5" stroke-linejoin="round"/>
<polygon points="463.3,267.1 478.7,273.4 463.3,272.5" fill="#fff" stroke="#000" stroke-width="2.5" stroke-linejoin="round"/>
<polygon points="462.3,288.1 478.7,286.5 462.3,293.9" fill="#fff" stroke="#000" stroke-width="2.5" stroke-linejoin="round"/>
<polygon points="530.1,265.9 514.2,273 530.1,271.4" fill="#fff" stroke="#000" stroke-width="2.5" stroke-linejoin="round"/>
<polygon points="529.6,287.6 513.8,286.2 529.6,294.1" fill="#fff" stroke="#000" stroke-width="2.5" stroke-linejoin="round"/>
<polygon points="551.5,177.1 566.8,181 551.5,182.9" fill="#fff" stroke="#000" stroke-width="2.5" stroke-linejoin="round"/>
<polygon points="541,196.1 560,199.4 541,202.2" fill="#fff" stroke="#000" stroke-width="2.5" stroke-linejoin="round"/>
<polygon points="615.5,196.1 597.5,199.3 615.5,202.2" fill="#fff" stroke="#000" stroke-width="2.5" stroke-linejoin="round"/>
<polygon points="688.1,196.1 672.5,199.7 688.1,202.2" fill="#fff" stroke="#000" stroke-width="2.5" stroke-linejoin="round"/>
<polygon points="452.7,343.1 468.5,351.6 452.7,348.9" fill="#fff" stroke="#000" stroke-width="2.5" stroke-linejoin="round"/>
<polygon points="482.9,369.8 494.7,355.8 489.1,369.8" fill="#fff" stroke="#000" stroke-width="2.5" stroke-linejoin="round"/>
<polygon points="535.5,378.1 560.7,405.2 535.5,385.4" fill="#fff" stroke="#000" stroke-width="2.5" stroke-linejoin="round"/>
<polygon points="550.981,366.203 579,412.6 556.319,363.497" fill="#fff" stroke="#000" stroke-width="2.5" stroke-linejoin="round"/>
<polygon points="531.8,397.6 551.5,412.8 531.8,403.9" fill="#fff" stroke="#000" stroke-width="2.5" stroke-linejoin="round"/>
<polygon points="606.4,365.2 601.6,403.6 611.7,365.2" fill="#fff" stroke="#000" stroke-width="2.5" stroke-linejoin="round"/>
<polygon points="583.4,388.2 586.4,403.6 588.7,388.2" fill="#fff" stroke="#000" stroke-width="2.5" stroke-linejoin="round"/>
<polygon points="621.1,385.8 610.2,417 626.9,385.8" fill="#fff" stroke="#000" stroke-width="2.5" stroke-linejoin="round"/>
<polygon points="647,410.7 625.6,426.8 647,416.5" fill="#fff" stroke="#000" stroke-width="2.5" stroke-linejoin="round"/>
<polygon points="644.5,437.1 626.5,439 644.5,442.4" fill="#fff" stroke="#000" stroke-width="2.5" stroke-linejoin="round"/>
<polygon points="658,462.1 648.5,457.6 658,467.9" fill="#fff" stroke="#000" stroke-width="2.5" stroke-linejoin="round"/>
<polygon points="665.5,482.1 648.5,475.6 665.5,487.9" fill="#fff" stroke="#000" stroke-width="2.5" stroke-linejoin="round"/>
<polygon points="711.1,438.5 705.6,426 716.9,438.5" fill="#fff" stroke="#000" stroke-width="2.5" stroke-linejoin="round"/>
<polygon points="699.1,312.3 706.4,331 704.9,312.3" fill="#fff" stroke="#000" stroke-width="2.5" stroke-linejoin="round"/>
<polygon points="679.2,360.6 690.3,364.4 679.2,366.4" fill="#fff" stroke="#000" stroke-width="2.5" stroke-linejoin="round"/>
<polygon points="678.2,387.1 690.3,390.8 678.2,393.4" fill="#fff" stroke="#000" stroke-width="2.5" stroke-linejoin="round"/>
<polygon points="450,415.1 465,418 450,420.9" fill="#fff" stroke="#000" stroke-width="2.5" stroke-linejoin="round"/>
<polygon points="450,437.3 465,438.3 450,443.9" fill="#fff" stroke="#000" stroke-width="2.5" stroke-linejoin="round"/>
<polygon points="445.8,494.4 461.8,497.4 445.8,500.6" fill="#fff" stroke="#000" stroke-width="2.5" stroke-linejoin="round"/>
<polygon points="504.454,481.253 520.6,490.6 510.046,478.047" fill="#fff" stroke="#000" stroke-width="2.5" stroke-linejoin="round"/>
<polygon points="527.1,448.3 546.8,430 532.9,448.3" fill="#fff" stroke="#000" stroke-width="2.5" stroke-linejoin="round"/>
<polygon points="549.4,486.8 566.8,430 555.1,486.8" fill="#fff" stroke="#000" stroke-width="2.5" stroke-linejoin="round"/>
<polygon points="583.9,488 585.5,430 589.1,488" fill="#fff" stroke="#000" stroke-width="2.5" stroke-linejoin="round"/>
<polygon points="616.9,486.8 603.3,430 622.1,486.8" fill="#fff" stroke="#000" stroke-width="2.5" stroke-linejoin="round"/>
<rect x="45" y="79.3" width="29.7" height="16.3" rx="2.5" fill="#fff" stroke="#000" stroke-width="2"/>
<text transform="translate(47.8,91.1) scale(0.84,1)" font-size="13" textLength="24.52" lengthAdjust="spacing" fill="#000" >J10</text>
<line x1="44.5" y1="86.3" x2="44.5" y2="90.2" stroke="#fff" stroke-width="2.4"/>
<rect x="45" y="103" width="30" height="16.5" rx="2.5" fill="#fff" stroke="#000" stroke-width="2"/>
<text transform="translate(48.9,114.8) scale(0.84,1)" font-size="13" textLength="21.90" lengthAdjust="spacing" fill="#000" >J11</text>
<line x1="44.5" y1="110.3" x2="44.5" y2="114.2" stroke="#fff" stroke-width="2.4"/>
<rect x="45.3" y="129.3" width="30.5" height="15.3" rx="2.5" fill="#fff" stroke="#000" stroke-width="2"/>
<text transform="translate(52.4,141.1) scale(0.84,1)" font-size="13" textLength="18.10" lengthAdjust="spacing" fill="#000" >W1</text>
<line x1="44.8" y1="135.3" x2="44.8" y2="138.7" stroke="#fff" stroke-width="2.4"/>
<rect x="45" y="152.4" width="29.3" height="15.9" rx="2.5" fill="#fff" stroke="#000" stroke-width="2"/>
<text transform="translate(50.7,164.2) scale(0.84,1)" font-size="13" textLength="19.64" lengthAdjust="spacing" fill="#000" >W2</text>
<line x1="44.5" y1="159.3" x2="44.5" y2="162.7" stroke="#fff" stroke-width="2.4"/>
<rect x="11.8" y="192.6" width="30.7" height="15.6" rx="2.5" fill="#fff" stroke="#000" stroke-width="2"/>
<text transform="translate(14.6,204.4) scale(0.84,1)" font-size="13" textLength="24.76" lengthAdjust="spacing" fill="#000" >J24</text>
<line x1="22.8" y1="192.1" x2="25.7" y2="192.1" stroke="#fff" stroke-width="2.4"/>
<rect x="432.2" y="261.3" width="30.6" height="13.9" rx="2.5" fill="#fff" stroke="#000" stroke-width="2"/>
<text transform="translate(437.3,273.1) scale(0.84,1)" font-size="13" textLength="21.07" lengthAdjust="spacing" fill="#000" >W3</text>
<line x1="463.3" y1="268.3" x2="463.3" y2="271.3" stroke="#fff" stroke-width="2.4"/>
<rect x="432.2" y="283.4" width="29.6" height="16" rx="2.5" fill="#fff" stroke="#000" stroke-width="2"/>
<text transform="translate(437.3,295.2) scale(0.84,1)" font-size="13" textLength="21.07" lengthAdjust="spacing" fill="#000" >W5</text>
<line x1="462.3" y1="289.3" x2="462.3" y2="292.7" stroke="#fff" stroke-width="2.4"/>
<rect x="530.6" y="261.3" width="29.6" height="13.7" rx="2.5" fill="#fff" stroke="#000" stroke-width="2"/>
<text transform="translate(536.3,273.1) scale(0.84,1)" font-size="13" textLength="20.24" lengthAdjust="spacing" fill="#000" >W4</text>
<line x1="530.1" y1="267.1" x2="530.1" y2="270.2" stroke="#fff" stroke-width="2.4"/>
<rect x="530.1" y="284" width="30.8" height="17" rx="2.5" fill="#fff" stroke="#000" stroke-width="2"/>
<text transform="translate(536,295.8) scale(0.84,1)" font-size="13" textLength="20.95" lengthAdjust="spacing" fill="#000" >W6</text>
<line x1="529.6" y1="288.8" x2="529.6" y2="292.9" stroke="#fff" stroke-width="2.4"/>
<rect x="527" y="171.2" width="24" height="15.2" rx="2.5" fill="#fff" stroke="#000" stroke-width="2"/>
<text transform="translate(531.6,183) scale(0.84,1)" font-size="13" textLength="15.48" lengthAdjust="spacing" fill="#000" >J5</text>
<line x1="551.5" y1="178.3" x2="551.5" y2="181.7" stroke="#fff" stroke-width="2.4"/>
<rect x="511" y="190.8" width="29.5" height="16.2" rx="2.5" fill="#fff" stroke="#000" stroke-width="2"/>
<text transform="translate(513.3,202.6) scale(0.84,1)" font-size="13" textLength="28.93" lengthAdjust="spacing" fill="#000" >W10</text>
<line x1="541" y1="197.3" x2="541" y2="201" stroke="#fff" stroke-width="2.4"/>
<rect x="616" y="191.8" width="30.7" height="15.9" rx="2.5" fill="#fff" stroke="#000" stroke-width="2"/>
<text transform="translate(619.2,203.6) scale(0.84,1)" font-size="13" textLength="28.57" lengthAdjust="spacing" fill="#000" >W11</text>
<line x1="615.5" y1="197.3" x2="615.5" y2="201" stroke="#fff" stroke-width="2.4"/>
<rect x="688.6" y="191.8" width="32.5" height="16.3" rx="2.5" fill="#fff" stroke="#000" stroke-width="2"/>
<text transform="translate(691.2,203.6) scale(0.84,1)" font-size="13" textLength="29.76" lengthAdjust="spacing" fill="#000" >W22</text>
<line x1="688.1" y1="197.3" x2="688.1" y2="201" stroke="#fff" stroke-width="2.4"/>
<rect x="420.8" y="337.8" width="31.4" height="17.4" rx="2.5" fill="#fff" stroke="#000" stroke-width="2"/>
<text transform="translate(427,349.6) scale(0.84,1)" font-size="13" textLength="21.43" lengthAdjust="spacing" fill="#000" >W7</text>
<line x1="452.7" y1="344.3" x2="452.7" y2="347.7" stroke="#fff" stroke-width="2.4"/>
<rect x="466.6" y="370.3" width="32.4" height="16.4" rx="2.5" fill="#fff" stroke="#000" stroke-width="2"/>
<text transform="translate(473,382.1) scale(0.84,1)" font-size="13" textLength="21.79" lengthAdjust="spacing" fill="#000" >W8</text>
<line x1="484.1" y1="369.8" x2="487.9" y2="369.8" stroke="#fff" stroke-width="2.4"/>
<rect x="505.3" y="370" width="29.7" height="16.6" rx="2.5" fill="#fff" stroke="#000" stroke-width="2"/>
<text transform="translate(507,381.8) scale(0.84,1)" font-size="13" textLength="29.17" lengthAdjust="spacing" fill="#000" >W12</text>
<line x1="535.5" y1="379.3" x2="535.5" y2="384.2" stroke="#fff" stroke-width="2.4"/>
<rect x="526.3" y="351" width="30.5" height="15.2" rx="2.5" fill="#fff" stroke="#000" stroke-width="2"/>
<text transform="translate(527.5,362.8) scale(0.84,1)" font-size="13" textLength="29.76" lengthAdjust="spacing" fill="#000" >W15</text>
<line x1="552.052" y1="365.66" x2="555.248" y2="364.04" stroke="#fff" stroke-width="2.4"/>
<rect x="501.3" y="391.4" width="30" height="16.1" rx="2.5" fill="#fff" stroke="#000" stroke-width="2"/>
<text transform="translate(503.8,403.2) scale(0.84,1)" font-size="13" textLength="23.21" lengthAdjust="spacing" fill="#000" >J14</text>
<line x1="531.8" y1="398.8" x2="531.8" y2="402.7" stroke="#fff" stroke-width="2.4"/>
<rect x="595.8" y="349.5" width="31.9" height="15.2" rx="2.5" fill="#fff" stroke="#000" stroke-width="2"/>
<text transform="translate(598.3,361.3) scale(0.84,1)" font-size="13" textLength="28.81" lengthAdjust="spacing" fill="#000" >W14</text>
<line x1="607.6" y1="365.2" x2="610.5" y2="365.2" stroke="#fff" stroke-width="2.4"/>
<rect x="570.9" y="371.8" width="31.3" height="15.9" rx="2.5" fill="#fff" stroke="#000" stroke-width="2"/>
<text transform="translate(573.3,383.6) scale(0.84,1)" font-size="13" textLength="28.81" lengthAdjust="spacing" fill="#000" >W13</text>
<line x1="584.6" y1="388.2" x2="587.5" y2="388.2" stroke="#fff" stroke-width="2.4"/>
<rect x="614.7" y="369.1" width="31" height="16.2" rx="2.5" fill="#fff" stroke="#000" stroke-width="2"/>
<text transform="translate(616,380.9) scale(0.84,1)" font-size="13" textLength="30.12" lengthAdjust="spacing" fill="#000" >W16</text>
<line x1="622.3" y1="385.8" x2="625.7" y2="385.8" stroke="#fff" stroke-width="2.4"/>
<rect x="647.5" y="407.2" width="30.1" height="15" rx="2.5" fill="#fff" stroke="#000" stroke-width="2"/>
<text transform="translate(648.5,419) scale(0.84,1)" font-size="13" textLength="32.02" lengthAdjust="spacing" fill="#000" >W21</text>
<line x1="647" y1="411.9" x2="647" y2="415.3" stroke="#fff" stroke-width="2.4"/>
<rect x="645" y="431.3" width="26" height="15.7" rx="2.5" fill="#fff" stroke="#000" stroke-width="2"/>
<text transform="translate(647,443.1) scale(0.84,1)" font-size="13" textLength="23.69" lengthAdjust="spacing" fill="#000" >J15</text>
<line x1="644.5" y1="438.3" x2="644.5" y2="441.2" stroke="#fff" stroke-width="2.4"/>
<rect x="658.5" y="457" width="26.1" height="15.4" rx="2.5" fill="#fff" stroke="#000" stroke-width="2"/>
<text transform="translate(662.3,468.8) scale(0.84,1)" font-size="13" textLength="23.10" lengthAdjust="spacing" fill="#000" >J16</text>
<line x1="658" y1="463.3" x2="658" y2="466.7" stroke="#fff" stroke-width="2.4"/>
<rect x="666" y="477.6" width="26.4" height="16" rx="2.5" fill="#fff" stroke="#000" stroke-width="2"/>
<text transform="translate(669,489.4) scale(0.84,1)" font-size="13" textLength="23.45" lengthAdjust="spacing" fill="#000" >J17</text>
<line x1="665.5" y1="483.3" x2="665.5" y2="486.7" stroke="#fff" stroke-width="2.4"/>
<rect x="701" y="439" width="32" height="16.5" rx="2.5" fill="#fff" stroke="#000" stroke-width="2"/>
<text transform="translate(705.6,450.8) scale(0.84,1)" font-size="13" textLength="23.81" lengthAdjust="spacing" fill="#000" >J22</text>
<line x1="712.3" y1="438.5" x2="715.7" y2="438.5" stroke="#fff" stroke-width="2.4"/>
<rect x="686" y="295" width="32" height="16.8" rx="2.5" fill="#fff" stroke="#000" stroke-width="2"/>
<text transform="translate(691.6,306.8) scale(0.84,1)" font-size="13" textLength="23.93" lengthAdjust="spacing" fill="#000" >J19</text>
<line x1="700.3" y1="312.3" x2="703.7" y2="312.3" stroke="#fff" stroke-width="2.4"/>
<rect x="650.5" y="354.4" width="28.2" height="17.3" rx="2.5" fill="#fff" stroke="#000" stroke-width="2"/>
<text transform="translate(653,366.2) scale(0.84,1)" font-size="13" textLength="24.05" lengthAdjust="spacing" fill="#000" >J20</text>
<line x1="679.2" y1="361.8" x2="679.2" y2="365.2" stroke="#fff" stroke-width="2.4"/>
<rect x="651" y="382" width="26.7" height="16.6" rx="2.5" fill="#fff" stroke="#000" stroke-width="2"/>
<text transform="translate(653.4,393.8) scale(0.84,1)" font-size="13" textLength="24.17" lengthAdjust="spacing" fill="#000" >J21</text>
<line x1="678.2" y1="388.3" x2="678.2" y2="392.2" stroke="#fff" stroke-width="2.4"/>
<rect x="419" y="409.6" width="30.5" height="15.5" rx="2.5" fill="#fff" stroke="#000" stroke-width="2"/>
<text transform="translate(422.6,421.4) scale(0.84,1)" font-size="13" textLength="24.76" lengthAdjust="spacing" fill="#000" >J12</text>
<line x1="450" y1="416.3" x2="450" y2="419.7" stroke="#fff" stroke-width="2.4"/>
<rect x="419" y="434" width="30.5" height="15.5" rx="2.5" fill="#fff" stroke="#000" stroke-width="2"/>
<text transform="translate(422.6,445.8) scale(0.84,1)" font-size="13" textLength="24.76" lengthAdjust="spacing" fill="#000" >J13</text>
<line x1="450" y1="438.5" x2="450" y2="442.7" stroke="#fff" stroke-width="2.4"/>
<rect x="422" y="489" width="23.3" height="16.5" rx="2.5" fill="#fff" stroke="#000" stroke-width="2"/>
<text transform="translate(426.5,500.8) scale(0.84,1)" font-size="13" textLength="17.50" lengthAdjust="spacing" fill="#000" >S1</text>
<line x1="445.8" y1="495.6" x2="445.8" y2="499.4" stroke="#fff" stroke-width="2.4"/>
<rect x="490" y="465.8" width="20.5" height="15.5" rx="2.5" fill="#fff" stroke="#000" stroke-width="2"/>
<text transform="translate(491.8,477.6) scale(0.84,1)" font-size="13" textLength="18.57" lengthAdjust="spacing" fill="#000" >W9</text>
<line x1="505.495" y1="480.656" x2="509.005" y2="478.644" stroke="#fff" stroke-width="2.4"/>
<rect x="514.9" y="448.8" width="30.4" height="15.9" rx="2.5" fill="#fff" stroke="#000" stroke-width="2"/>
<text transform="translate(517.4,460.6) scale(0.84,1)" font-size="13" textLength="28.10" lengthAdjust="spacing" fill="#000" >W17</text>
<line x1="528.3" y1="448.3" x2="531.7" y2="448.3" stroke="#fff" stroke-width="2.4"/>
<rect x="532.5" y="487.3" width="32" height="15.3" rx="2.5" fill="#fff" stroke="#000" stroke-width="2"/>
<text transform="translate(535.3,499.1) scale(0.84,1)" font-size="13" textLength="28.69" lengthAdjust="spacing" fill="#000" >W18</text>
<line x1="550.6" y1="486.8" x2="553.9" y2="486.8" stroke="#fff" stroke-width="2.4"/>
<rect x="569" y="488.5" width="31.5" height="16.3" rx="2.5" fill="#fff" stroke="#000" stroke-width="2"/>
<text transform="translate(572.5,500.3) scale(0.84,1)" font-size="13" textLength="28.93" lengthAdjust="spacing" fill="#000" >W19</text>
<line x1="585.1" y1="488" x2="587.9" y2="488" stroke="#fff" stroke-width="2.4"/>
<rect x="605.8" y="487.3" width="31.7" height="15.3" rx="2.5" fill="#fff" stroke="#000" stroke-width="2"/>
<text transform="translate(607.6,499.1) scale(0.84,1)" font-size="13" textLength="30.12" lengthAdjust="spacing" fill="#000" >W20</text>
<line x1="618.1" y1="486.8" x2="620.9" y2="486.8" stroke="#fff" stroke-width="2.4"/>
<text transform="translate(562.7,49) scale(0.84,1)" font-size="12.5" textLength="50.95" lengthAdjust="spacing" fill="#000" >MH0152</text>
</svg>
</body></html>
